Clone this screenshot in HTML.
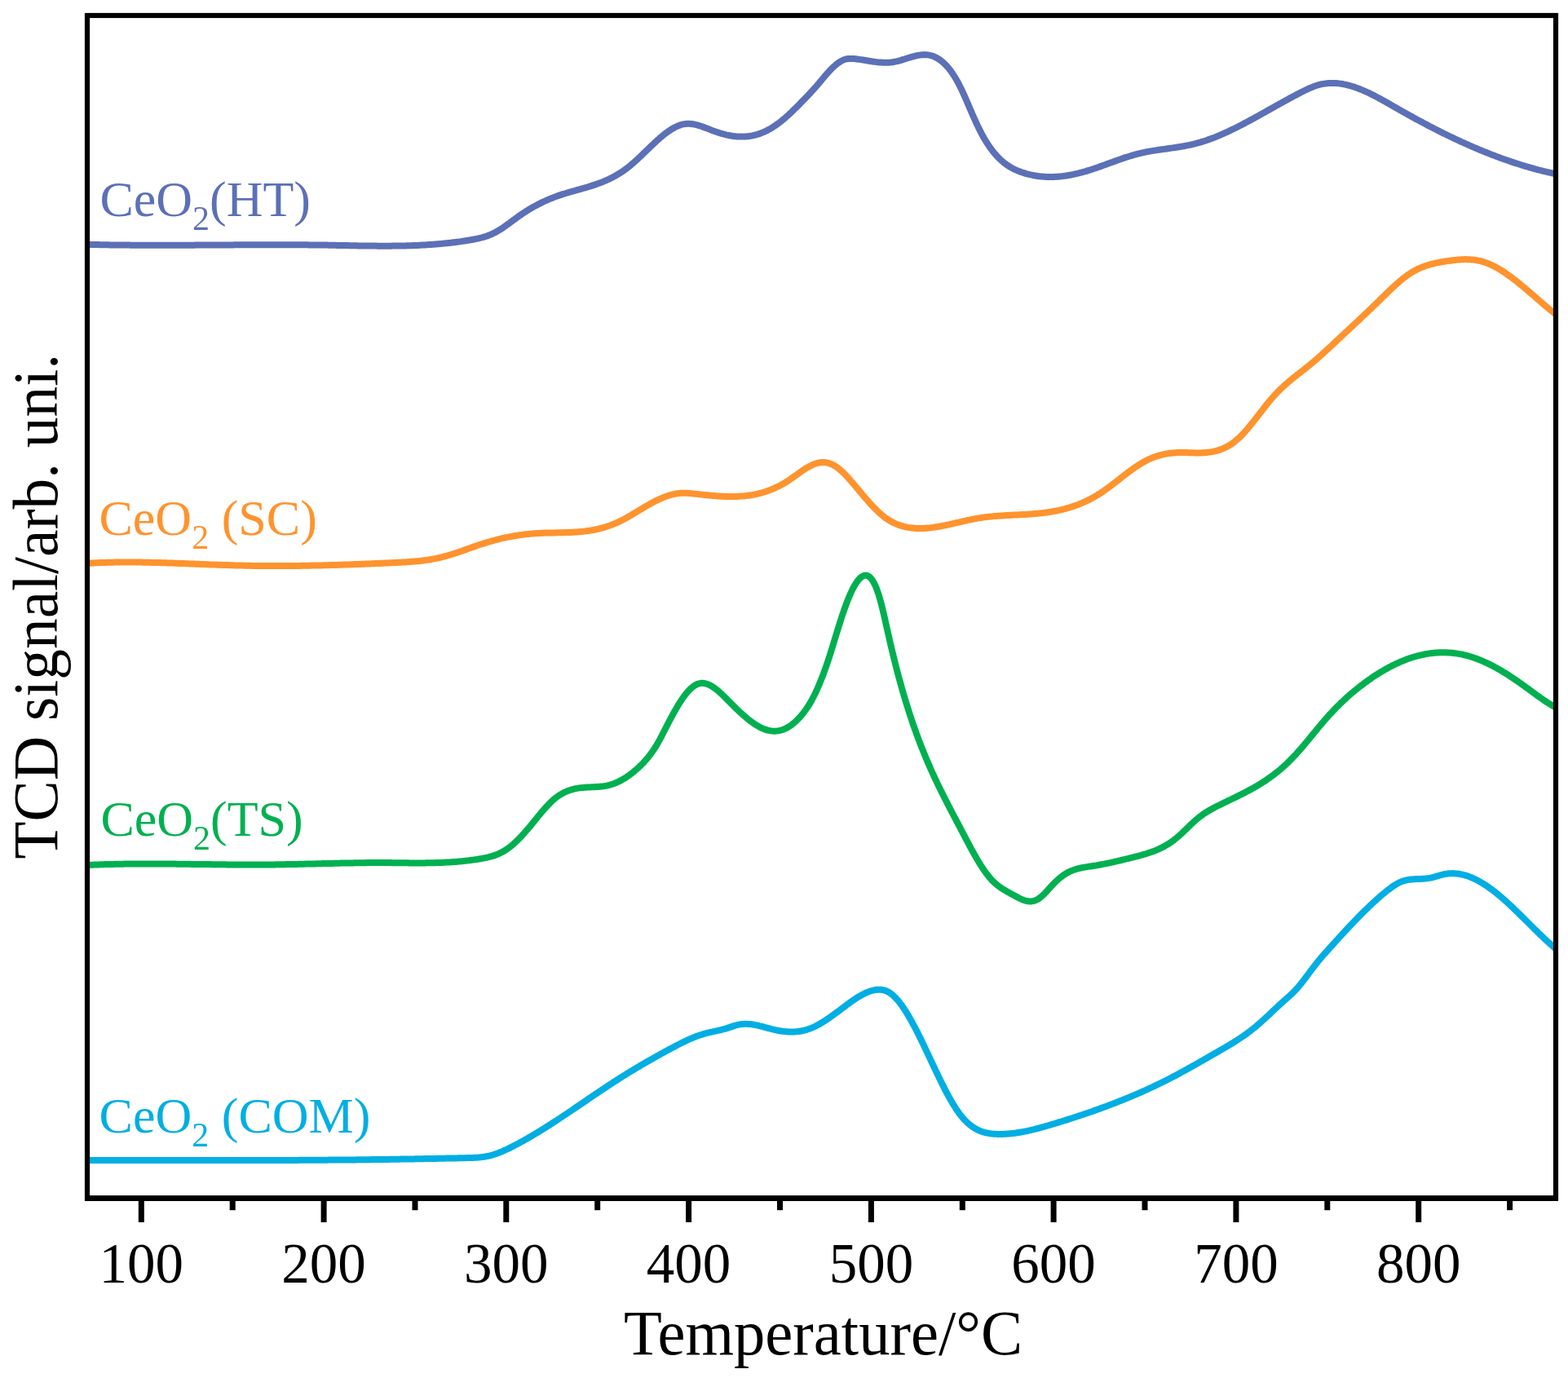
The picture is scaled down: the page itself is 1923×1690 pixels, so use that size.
<!DOCTYPE html>
<html><head><meta charset="utf-8"><style>
html,body{margin:0;padding:0;background:#fff;}
svg{display:block;}
text{font-family:"Liberation Serif","Times New Roman",serif;}
</style></head><body>
<svg width="1923" height="1690" viewBox="0 0 1923 1690">
<rect x="0" y="0" width="1923" height="1690" fill="#fff"/>
<defs><clipPath id="pc"><rect x="107" y="19" width="1801" height="1450"/></clipPath></defs>
<g clip-path="url(#pc)" fill="none" stroke-width="8" stroke-linejoin="round" stroke-linecap="butt">
<path d="M100.0,299.6 L101.5,299.7 L103.0,299.7 L104.5,299.7 L106.0,299.8 L107.5,299.8 L109.0,299.9 L110.5,299.9 L112.0,299.9 L113.5,300.0 L115.0,300.0 L116.5,300.0 L118.0,300.1 L119.5,300.1 L121.0,300.1 L122.5,300.2 L124.0,300.2 L125.5,300.2 L127.0,300.2 L128.5,300.3 L130.0,300.3 L131.5,300.3 L133.0,300.3 L134.5,300.4 L136.0,300.4 L137.5,300.4 L139.0,300.4 L140.5,300.4 L142.0,300.5 L143.5,300.5 L145.0,300.5 L146.5,300.5 L148.0,300.5 L149.5,300.6 L151.0,300.6 L152.5,300.6 L154.0,300.6 L155.5,300.6 L157.0,300.6 L158.5,300.6 L160.0,300.7 L161.5,300.7 L163.0,300.7 L164.5,300.7 L166.0,300.7 L167.5,300.7 L169.0,300.7 L170.5,300.7 L172.0,300.7 L173.5,300.7 L175.0,300.7 L176.5,300.8 L178.0,300.8 L179.5,300.8 L181.0,300.8 L182.5,300.8 L184.0,300.8 L185.5,300.8 L187.0,300.8 L188.5,300.8 L190.0,300.8 L191.5,300.8 L193.0,300.8 L194.5,300.8 L196.0,300.8 L197.5,300.8 L199.0,300.8 L200.5,300.8 L202.0,300.8 L203.5,300.8 L205.0,300.8 L206.5,300.8 L208.0,300.8 L209.5,300.8 L211.0,300.8 L212.5,300.8 L214.0,300.8 L215.5,300.8 L217.0,300.7 L218.5,300.7 L220.0,300.7 L221.5,300.7 L223.0,300.7 L224.5,300.7 L226.0,300.7 L227.5,300.7 L229.0,300.7 L230.5,300.7 L232.0,300.7 L233.5,300.7 L235.0,300.7 L236.5,300.7 L238.0,300.7 L239.5,300.6 L241.0,300.6 L242.5,300.6 L244.0,300.6 L245.5,300.6 L247.0,300.6 L248.5,300.6 L250.0,300.6 L251.5,300.6 L253.0,300.6 L254.5,300.6 L256.0,300.5 L257.5,300.5 L259.0,300.5 L260.5,300.5 L262.0,300.5 L263.5,300.5 L265.0,300.5 L266.5,300.5 L268.0,300.5 L269.5,300.5 L271.0,300.4 L272.5,300.4 L274.0,300.4 L275.5,300.4 L277.0,300.4 L278.5,300.4 L280.0,300.4 L281.5,300.4 L283.0,300.4 L284.5,300.4 L286.0,300.4 L287.5,300.3 L289.0,300.3 L290.5,300.3 L292.0,300.3 L293.5,300.3 L295.0,300.3 L296.5,300.3 L298.0,300.3 L299.5,300.3 L301.0,300.3 L302.5,300.3 L304.0,300.3 L305.5,300.3 L307.0,300.2 L308.5,300.2 L310.0,300.2 L311.5,300.2 L313.0,300.2 L314.5,300.2 L316.0,300.2 L317.5,300.2 L319.0,300.2 L320.5,300.2 L322.0,300.2 L323.5,300.2 L325.0,300.2 L326.5,300.2 L328.0,300.2 L329.5,300.2 L331.0,300.2 L332.5,300.2 L334.0,300.2 L335.5,300.2 L337.0,300.2 L338.5,300.2 L340.0,300.2 L341.5,300.2 L343.0,300.2 L344.5,300.2 L346.0,300.2 L347.5,300.2 L349.0,300.2 L350.5,300.2 L352.0,300.2 L353.5,300.2 L355.0,300.2 L356.5,300.2 L358.0,300.2 L359.5,300.2 L361.0,300.2 L362.5,300.2 L364.0,300.2 L365.5,300.2 L367.0,300.3 L368.5,300.3 L370.0,300.3 L371.5,300.3 L373.0,300.3 L374.5,300.3 L376.0,300.3 L377.5,300.3 L379.0,300.4 L380.5,300.4 L382.0,300.4 L383.5,300.4 L385.0,300.4 L386.5,300.4 L388.0,300.5 L389.5,300.5 L391.0,300.5 L392.5,300.5 L394.0,300.5 L395.5,300.6 L397.0,300.6 L398.5,300.6 L400.0,300.6 L401.5,300.6 L403.0,300.7 L404.5,300.7 L406.0,300.7 L407.5,300.8 L409.0,300.8 L410.5,300.8 L412.0,300.8 L413.5,300.9 L415.0,300.9 L416.5,300.9 L418.0,301.0 L419.5,301.0 L421.0,301.0 L422.5,301.0 L424.0,301.1 L425.5,301.1 L427.0,301.1 L428.5,301.2 L430.0,301.2 L431.5,301.2 L433.0,301.2 L434.5,301.3 L436.0,301.3 L437.5,301.3 L439.0,301.4 L440.5,301.4 L442.0,301.4 L443.5,301.4 L445.0,301.4 L446.5,301.5 L448.0,301.5 L449.5,301.5 L451.0,301.5 L452.5,301.6 L454.0,301.6 L455.5,301.6 L457.0,301.6 L458.5,301.6 L460.0,301.6 L461.5,301.6 L463.0,301.7 L464.5,301.7 L466.0,301.7 L467.5,301.7 L469.0,301.7 L470.5,301.7 L472.0,301.7 L473.5,301.7 L475.0,301.7 L476.5,301.7 L478.0,301.7 L479.5,301.7 L481.0,301.6 L482.5,301.6 L484.0,301.6 L485.5,301.6 L487.0,301.6 L488.5,301.6 L490.0,301.5 L491.5,301.5 L493.0,301.5 L494.5,301.4 L496.0,301.4 L497.5,301.4 L499.0,301.3 L500.5,301.3 L502.0,301.2 L503.5,301.2 L505.0,301.2 L506.5,301.1 L508.0,301.0 L509.5,301.0 L511.0,300.9 L512.5,300.9 L514.0,300.8 L515.5,300.7 L517.0,300.6 L518.5,300.6 L520.0,300.5 L521.5,300.4 L523.0,300.3 L524.5,300.2 L526.0,300.1 L527.5,300.0 L529.0,299.9 L530.5,299.8 L532.0,299.7 L533.5,299.6 L535.0,299.5 L536.5,299.3 L538.0,299.2 L539.5,299.1 L541.0,298.9 L542.5,298.8 L544.0,298.6 L545.5,298.5 L547.0,298.3 L548.5,298.2 L550.0,298.0 L551.5,297.9 L553.0,297.7 L554.5,297.5 L556.0,297.3 L557.5,297.2 L559.0,297.0 L560.5,296.8 L562.0,296.6 L563.5,296.4 L565.0,296.2 L566.5,295.9 L568.0,295.7 L569.5,295.5 L571.0,295.3 L572.5,295.0 L574.0,294.8 L575.5,294.5 L577.0,294.3 L578.5,294.0 L580.0,293.8 L581.5,293.5 L583.0,293.2 L584.5,292.9 L586.0,292.6 L587.5,292.2 L589.0,291.9 L590.5,291.5 L592.0,291.1 L593.5,290.6 L595.0,290.2 L596.5,289.7 L598.0,289.1 L599.5,288.6 L601.0,288.0 L602.5,287.3 L604.0,286.7 L605.5,285.9 L607.0,285.2 L608.5,284.4 L610.0,283.5 L611.5,282.6 L613.0,281.7 L614.5,280.8 L616.0,279.8 L617.5,278.8 L619.0,277.7 L620.5,276.7 L622.0,275.6 L623.5,274.5 L625.0,273.4 L626.5,272.3 L628.0,271.2 L629.5,270.1 L631.0,269.0 L632.5,267.9 L634.0,266.8 L635.5,265.7 L637.0,264.6 L638.5,263.6 L640.0,262.6 L641.5,261.5 L643.0,260.6 L644.5,259.6 L646.0,258.6 L647.5,257.7 L649.0,256.8 L650.5,255.9 L652.0,255.0 L653.5,254.1 L655.0,253.3 L656.5,252.5 L658.0,251.7 L659.5,250.9 L661.0,250.1 L662.5,249.4 L664.0,248.6 L665.5,247.9 L667.0,247.2 L668.5,246.5 L670.0,245.8 L671.5,245.2 L673.0,244.5 L674.5,243.9 L676.0,243.3 L677.5,242.7 L679.0,242.1 L680.5,241.5 L682.0,241.0 L683.5,240.4 L685.0,239.9 L686.5,239.4 L688.0,238.9 L689.5,238.4 L691.0,237.9 L692.5,237.5 L694.0,237.0 L695.5,236.5 L697.0,236.1 L698.5,235.7 L700.0,235.2 L701.5,234.8 L703.0,234.4 L704.5,234.0 L706.0,233.5 L707.5,233.1 L709.0,232.7 L710.5,232.3 L712.0,231.9 L713.5,231.4 L715.0,231.0 L716.5,230.6 L718.0,230.2 L719.5,229.7 L721.0,229.3 L722.5,228.8 L724.0,228.4 L725.5,227.9 L727.0,227.4 L728.5,226.9 L730.0,226.4 L731.5,225.9 L733.0,225.3 L734.5,224.8 L736.0,224.2 L737.5,223.7 L739.0,223.1 L740.5,222.5 L742.0,221.8 L743.5,221.2 L745.0,220.5 L746.5,219.8 L748.0,219.1 L749.5,218.3 L751.0,217.6 L752.5,216.8 L754.0,216.0 L755.5,215.1 L757.0,214.2 L758.5,213.3 L760.0,212.4 L761.5,211.5 L763.0,210.5 L764.5,209.4 L766.0,208.4 L767.5,207.3 L769.0,206.2 L770.5,205.0 L772.0,203.8 L773.5,202.6 L775.0,201.3 L776.5,200.0 L778.0,198.7 L779.5,197.3 L781.0,196.0 L782.5,194.6 L784.0,193.2 L785.5,191.8 L787.0,190.3 L788.5,188.9 L790.0,187.4 L791.5,186.0 L793.0,184.5 L794.5,183.1 L796.0,181.6 L797.5,180.2 L799.0,178.7 L800.5,177.3 L802.0,175.9 L803.5,174.5 L805.0,173.1 L806.5,171.7 L808.0,170.4 L809.5,169.1 L811.0,167.8 L812.5,166.6 L814.0,165.3 L815.5,164.1 L817.0,163.0 L818.5,161.9 L820.0,160.8 L821.5,159.8 L823.0,158.8 L824.5,157.9 L826.0,157.1 L827.5,156.3 L829.0,155.5 L830.5,154.8 L832.0,154.2 L833.5,153.6 L835.0,153.1 L836.5,152.7 L838.0,152.4 L839.5,152.1 L841.0,151.9 L842.5,151.8 L844.0,151.8 L845.5,151.8 L847.0,151.9 L848.5,152.0 L850.0,152.3 L851.5,152.5 L853.0,152.9 L854.5,153.2 L856.0,153.6 L857.5,154.1 L859.0,154.5 L860.5,155.0 L862.0,155.6 L863.5,156.1 L865.0,156.7 L866.5,157.3 L868.0,157.8 L869.5,158.4 L871.0,159.0 L872.5,159.6 L874.0,160.2 L875.5,160.7 L877.0,161.3 L878.5,161.8 L880.0,162.3 L881.5,162.8 L883.0,163.3 L884.5,163.7 L886.0,164.1 L887.5,164.5 L889.0,164.9 L890.5,165.3 L892.0,165.6 L893.5,166.0 L895.0,166.2 L896.5,166.5 L898.0,166.8 L899.5,167.0 L901.0,167.2 L902.5,167.3 L904.0,167.4 L905.5,167.5 L907.0,167.6 L908.5,167.6 L910.0,167.6 L911.5,167.6 L913.0,167.6 L914.5,167.5 L916.0,167.3 L917.5,167.2 L919.0,167.0 L920.5,166.7 L922.0,166.5 L923.5,166.2 L925.0,165.8 L926.5,165.5 L928.0,165.0 L929.5,164.6 L931.0,164.1 L932.5,163.6 L934.0,163.0 L935.5,162.4 L937.0,161.8 L938.5,161.1 L940.0,160.4 L941.5,159.6 L943.0,158.8 L944.5,158.0 L946.0,157.1 L947.5,156.2 L949.0,155.2 L950.5,154.2 L952.0,153.2 L953.5,152.1 L955.0,151.0 L956.5,149.8 L958.0,148.6 L959.5,147.4 L961.0,146.2 L962.5,144.9 L964.0,143.6 L965.5,142.2 L967.0,140.9 L968.5,139.5 L970.0,138.1 L971.5,136.7 L973.0,135.2 L974.5,133.7 L976.0,132.3 L977.5,130.8 L979.0,129.3 L980.5,127.8 L982.0,126.2 L983.5,124.7 L985.0,123.2 L986.5,121.6 L988.0,120.1 L989.5,118.5 L991.0,116.9 L992.5,115.3 L994.0,113.7 L995.5,112.1 L997.0,110.4 L998.5,108.8 L1000.0,107.1 L1001.5,105.4 L1003.0,103.6 L1004.5,101.9 L1006.0,100.1 L1007.5,98.3 L1009.0,96.5 L1010.5,94.7 L1012.0,92.9 L1013.5,91.2 L1015.0,89.5 L1016.5,87.8 L1018.0,86.2 L1019.5,84.6 L1021.0,83.1 L1022.5,81.7 L1024.0,80.4 L1025.5,79.1 L1027.0,77.9 L1028.5,76.8 L1030.0,75.8 L1031.5,75.0 L1033.0,74.2 L1034.5,73.5 L1036.0,72.9 L1037.5,72.5 L1039.0,72.2 L1040.5,72.0 L1042.0,71.9 L1043.5,71.9 L1045.0,71.9 L1046.5,72.0 L1048.0,72.1 L1049.5,72.3 L1051.0,72.5 L1052.5,72.7 L1054.0,72.9 L1055.5,73.1 L1057.0,73.3 L1058.5,73.5 L1060.0,73.8 L1061.5,74.0 L1063.0,74.3 L1064.5,74.5 L1066.0,74.8 L1067.5,75.0 L1069.0,75.3 L1070.5,75.5 L1072.0,75.7 L1073.5,75.9 L1075.0,76.1 L1076.5,76.3 L1078.0,76.4 L1079.5,76.5 L1081.0,76.6 L1082.5,76.7 L1084.0,76.8 L1085.5,76.8 L1087.0,76.8 L1088.5,76.8 L1090.0,76.7 L1091.5,76.6 L1093.0,76.4 L1094.5,76.3 L1096.0,76.0 L1097.5,75.7 L1099.0,75.4 L1100.5,75.1 L1102.0,74.7 L1103.5,74.3 L1105.0,73.9 L1106.5,73.4 L1108.0,72.9 L1109.5,72.5 L1111.0,72.0 L1112.5,71.5 L1114.0,71.0 L1115.5,70.6 L1117.0,70.1 L1118.5,69.7 L1120.0,69.3 L1121.5,68.9 L1123.0,68.5 L1124.5,68.2 L1126.0,67.9 L1127.5,67.6 L1129.0,67.4 L1130.5,67.3 L1132.0,67.2 L1133.5,67.1 L1135.0,67.2 L1136.5,67.2 L1138.0,67.4 L1139.5,67.6 L1141.0,68.0 L1142.5,68.4 L1144.0,68.8 L1145.5,69.4 L1147.0,70.1 L1148.5,70.8 L1150.0,71.7 L1151.5,72.6 L1153.0,73.6 L1154.5,74.8 L1156.0,76.0 L1157.5,77.4 L1159.0,78.8 L1160.5,80.4 L1162.0,82.0 L1163.5,83.8 L1165.0,85.7 L1166.5,87.7 L1168.0,89.8 L1169.5,92.1 L1171.0,94.5 L1172.5,97.0 L1174.0,99.6 L1175.5,102.4 L1177.0,105.3 L1178.5,108.3 L1180.0,111.5 L1181.5,114.7 L1183.0,118.0 L1184.5,121.5 L1186.0,124.9 L1187.5,128.4 L1189.0,131.9 L1190.5,135.4 L1192.0,138.9 L1193.5,142.3 L1195.0,145.7 L1196.5,149.0 L1198.0,152.2 L1199.5,155.4 L1201.0,158.4 L1202.5,161.4 L1204.0,164.3 L1205.5,167.0 L1207.0,169.7 L1208.5,172.2 L1210.0,174.6 L1211.5,177.0 L1213.0,179.2 L1214.5,181.4 L1216.0,183.4 L1217.5,185.4 L1219.0,187.2 L1220.5,189.0 L1222.0,190.7 L1223.5,192.3 L1225.0,193.9 L1226.5,195.3 L1228.0,196.7 L1229.5,198.0 L1231.0,199.3 L1232.5,200.5 L1234.0,201.6 L1235.5,202.6 L1237.0,203.6 L1238.5,204.6 L1240.0,205.5 L1241.5,206.3 L1243.0,207.1 L1244.5,207.8 L1246.0,208.5 L1247.5,209.2 L1249.0,209.8 L1250.5,210.4 L1252.0,210.9 L1253.5,211.5 L1255.0,211.9 L1256.5,212.4 L1258.0,212.9 L1259.5,213.3 L1261.0,213.7 L1262.5,214.0 L1264.0,214.4 L1265.5,214.7 L1267.0,215.0 L1268.5,215.3 L1270.0,215.5 L1271.5,215.8 L1273.0,216.0 L1274.5,216.2 L1276.0,216.4 L1277.5,216.5 L1279.0,216.6 L1280.5,216.7 L1282.0,216.8 L1283.5,216.9 L1285.0,216.9 L1286.5,217.0 L1288.0,217.0 L1289.5,217.0 L1291.0,216.9 L1292.5,216.9 L1294.0,216.8 L1295.5,216.8 L1297.0,216.7 L1298.5,216.5 L1300.0,216.4 L1301.5,216.3 L1303.0,216.1 L1304.5,215.9 L1306.0,215.7 L1307.5,215.5 L1309.0,215.2 L1310.5,215.0 L1312.0,214.7 L1313.5,214.5 L1315.0,214.2 L1316.5,213.9 L1318.0,213.5 L1319.5,213.2 L1321.0,212.9 L1322.5,212.5 L1324.0,212.1 L1325.5,211.7 L1327.0,211.3 L1328.5,210.9 L1330.0,210.5 L1331.5,210.1 L1333.0,209.6 L1334.5,209.1 L1336.0,208.7 L1337.5,208.2 L1339.0,207.7 L1340.5,207.2 L1342.0,206.7 L1343.5,206.2 L1345.0,205.7 L1346.5,205.2 L1348.0,204.6 L1349.5,204.1 L1351.0,203.6 L1352.5,203.0 L1354.0,202.5 L1355.5,202.0 L1357.0,201.4 L1358.5,200.9 L1360.0,200.3 L1361.5,199.8 L1363.0,199.2 L1364.5,198.7 L1366.0,198.1 L1367.5,197.6 L1369.0,197.1 L1370.5,196.5 L1372.0,196.0 L1373.5,195.5 L1375.0,195.0 L1376.5,194.4 L1378.0,193.9 L1379.5,193.4 L1381.0,192.9 L1382.5,192.5 L1384.0,192.0 L1385.5,191.5 L1387.0,191.1 L1388.5,190.6 L1390.0,190.2 L1391.5,189.7 L1393.0,189.3 L1394.5,188.9 L1396.0,188.5 L1397.5,188.2 L1399.0,187.8 L1400.5,187.5 L1402.0,187.1 L1403.5,186.8 L1405.0,186.5 L1406.5,186.2 L1408.0,185.9 L1409.5,185.7 L1411.0,185.4 L1412.5,185.1 L1414.0,184.9 L1415.5,184.6 L1417.0,184.4 L1418.5,184.2 L1420.0,183.9 L1421.5,183.7 L1423.0,183.5 L1424.5,183.3 L1426.0,183.1 L1427.5,182.9 L1429.0,182.7 L1430.5,182.5 L1432.0,182.2 L1433.5,182.0 L1435.0,181.8 L1436.5,181.6 L1438.0,181.4 L1439.5,181.2 L1441.0,181.0 L1442.5,180.8 L1444.0,180.5 L1445.5,180.3 L1447.0,180.0 L1448.5,179.8 L1450.0,179.5 L1451.5,179.3 L1453.0,179.0 L1454.5,178.7 L1456.0,178.4 L1457.5,178.1 L1459.0,177.8 L1460.5,177.5 L1462.0,177.1 L1463.5,176.8 L1465.0,176.4 L1466.5,176.0 L1468.0,175.6 L1469.5,175.2 L1471.0,174.8 L1472.5,174.4 L1474.0,173.9 L1475.5,173.4 L1477.0,173.0 L1478.5,172.5 L1480.0,172.0 L1481.5,171.4 L1483.0,170.9 L1484.5,170.4 L1486.0,169.8 L1487.5,169.2 L1489.0,168.7 L1490.5,168.1 L1492.0,167.5 L1493.5,166.8 L1495.0,166.2 L1496.5,165.6 L1498.0,164.9 L1499.5,164.3 L1501.0,163.6 L1502.5,162.9 L1504.0,162.3 L1505.5,161.6 L1507.0,160.9 L1508.5,160.2 L1510.0,159.4 L1511.5,158.7 L1513.0,158.0 L1514.5,157.3 L1516.0,156.5 L1517.5,155.8 L1519.0,155.0 L1520.5,154.2 L1522.0,153.5 L1523.5,152.7 L1525.0,151.9 L1526.5,151.1 L1528.0,150.3 L1529.5,149.5 L1531.0,148.7 L1532.5,147.9 L1534.0,147.1 L1535.5,146.3 L1537.0,145.5 L1538.5,144.6 L1540.0,143.8 L1541.5,143.0 L1543.0,142.2 L1544.5,141.3 L1546.0,140.5 L1547.5,139.6 L1549.0,138.8 L1550.5,138.0 L1552.0,137.1 L1553.5,136.3 L1555.0,135.4 L1556.5,134.6 L1558.0,133.8 L1559.5,132.9 L1561.0,132.1 L1562.5,131.2 L1564.0,130.4 L1565.5,129.5 L1567.0,128.7 L1568.5,127.9 L1570.0,127.0 L1571.5,126.2 L1573.0,125.4 L1574.5,124.5 L1576.0,123.7 L1577.5,122.9 L1579.0,122.1 L1580.5,121.2 L1582.0,120.4 L1583.5,119.6 L1585.0,118.8 L1586.5,118.0 L1588.0,117.2 L1589.5,116.4 L1591.0,115.6 L1592.5,114.8 L1594.0,114.1 L1595.5,113.3 L1597.0,112.5 L1598.5,111.8 L1600.0,111.0 L1601.5,110.3 L1603.0,109.6 L1604.5,108.9 L1606.0,108.2 L1607.5,107.6 L1609.0,107.0 L1610.5,106.4 L1612.0,105.8 L1613.5,105.3 L1615.0,104.8 L1616.5,104.3 L1618.0,103.9 L1619.5,103.5 L1621.0,103.2 L1622.5,102.9 L1624.0,102.7 L1625.5,102.4 L1627.0,102.3 L1628.5,102.1 L1630.0,102.0 L1631.5,101.9 L1633.0,101.9 L1634.5,101.9 L1636.0,101.9 L1637.5,102.0 L1639.0,102.1 L1640.5,102.2 L1642.0,102.4 L1643.5,102.6 L1645.0,102.8 L1646.5,103.0 L1648.0,103.3 L1649.5,103.6 L1651.0,103.9 L1652.5,104.3 L1654.0,104.7 L1655.5,105.1 L1657.0,105.5 L1658.5,106.0 L1660.0,106.4 L1661.5,106.9 L1663.0,107.5 L1664.5,108.0 L1666.0,108.6 L1667.5,109.1 L1669.0,109.8 L1670.5,110.4 L1672.0,111.0 L1673.5,111.7 L1675.0,112.3 L1676.5,113.0 L1678.0,113.7 L1679.5,114.4 L1681.0,115.2 L1682.5,115.9 L1684.0,116.7 L1685.5,117.4 L1687.0,118.2 L1688.5,119.0 L1690.0,119.8 L1691.5,120.6 L1693.0,121.4 L1694.5,122.2 L1696.0,123.1 L1697.5,123.9 L1699.0,124.7 L1700.5,125.6 L1702.0,126.4 L1703.5,127.3 L1705.0,128.1 L1706.5,129.0 L1708.0,129.9 L1709.5,130.7 L1711.0,131.6 L1712.5,132.4 L1714.0,133.3 L1715.5,134.2 L1717.0,135.0 L1718.5,135.9 L1720.0,136.7 L1721.5,137.6 L1723.0,138.4 L1724.5,139.3 L1726.0,140.1 L1727.5,140.9 L1729.0,141.8 L1730.5,142.6 L1732.0,143.4 L1733.5,144.2 L1735.0,145.1 L1736.5,145.9 L1738.0,146.7 L1739.5,147.5 L1741.0,148.3 L1742.5,149.1 L1744.0,149.9 L1745.5,150.7 L1747.0,151.5 L1748.5,152.3 L1750.0,153.1 L1751.5,153.9 L1753.0,154.7 L1754.5,155.5 L1756.0,156.2 L1757.5,157.0 L1759.0,157.8 L1760.5,158.5 L1762.0,159.3 L1763.5,160.1 L1765.0,160.8 L1766.5,161.6 L1768.0,162.3 L1769.5,163.1 L1771.0,163.8 L1772.5,164.5 L1774.0,165.3 L1775.5,166.0 L1777.0,166.7 L1778.5,167.5 L1780.0,168.2 L1781.5,168.9 L1783.0,169.6 L1784.5,170.3 L1786.0,171.0 L1787.5,171.7 L1789.0,172.4 L1790.5,173.1 L1792.0,173.8 L1793.5,174.5 L1795.0,175.2 L1796.5,175.8 L1798.0,176.5 L1799.5,177.2 L1801.0,177.8 L1802.5,178.5 L1804.0,179.2 L1805.5,179.8 L1807.0,180.5 L1808.5,181.1 L1810.0,181.7 L1811.5,182.4 L1813.0,183.0 L1814.5,183.6 L1816.0,184.3 L1817.5,184.9 L1819.0,185.5 L1820.5,186.1 L1822.0,186.7 L1823.5,187.3 L1825.0,187.9 L1826.5,188.5 L1828.0,189.1 L1829.5,189.7 L1831.0,190.3 L1832.5,190.8 L1834.0,191.4 L1835.5,192.0 L1837.0,192.5 L1838.5,193.1 L1840.0,193.6 L1841.5,194.2 L1843.0,194.7 L1844.5,195.2 L1846.0,195.8 L1847.5,196.3 L1849.0,196.8 L1850.5,197.3 L1852.0,197.9 L1853.5,198.4 L1855.0,198.9 L1856.5,199.4 L1858.0,199.9 L1859.5,200.3 L1861.0,200.8 L1862.5,201.3 L1864.0,201.8 L1865.5,202.3 L1867.0,202.7 L1868.5,203.2 L1870.0,203.6 L1871.5,204.1 L1873.0,204.5 L1874.5,204.9 L1876.0,205.4 L1877.5,205.8 L1879.0,206.2 L1880.5,206.6 L1882.0,207.1 L1883.5,207.5 L1885.0,207.9 L1886.5,208.3 L1888.0,208.6 L1889.5,209.0 L1891.0,209.4 L1892.5,209.8 L1894.0,210.1 L1895.5,210.5 L1897.0,210.9 L1898.5,211.2 L1900.0,211.6 L1901.5,211.9 L1903.0,212.2 L1904.5,212.6 L1906.0,212.9 L1907.5,213.2 L1909.0,213.5 L1910.5,213.8 L1912.0,214.1" stroke="#5C70B7"/>
<path d="M100.0,691.3 L101.5,691.2 L103.0,691.1 L104.5,691.0 L106.0,690.9 L107.5,690.8 L109.0,690.8 L110.5,690.7 L112.0,690.6 L113.5,690.5 L115.0,690.4 L116.5,690.4 L118.0,690.3 L119.5,690.2 L121.0,690.2 L122.5,690.1 L124.0,690.1 L125.5,690.0 L127.0,690.0 L128.5,689.9 L130.0,689.9 L131.5,689.8 L133.0,689.8 L134.5,689.8 L136.0,689.7 L137.5,689.7 L139.0,689.7 L140.5,689.6 L142.0,689.6 L143.5,689.6 L145.0,689.6 L146.5,689.6 L148.0,689.6 L149.5,689.5 L151.0,689.5 L152.5,689.5 L154.0,689.5 L155.5,689.5 L157.0,689.5 L158.5,689.5 L160.0,689.5 L161.5,689.5 L163.0,689.5 L164.5,689.5 L166.0,689.6 L167.5,689.6 L169.0,689.6 L170.5,689.6 L172.0,689.6 L173.5,689.6 L175.0,689.7 L176.5,689.7 L178.0,689.7 L179.5,689.7 L181.0,689.8 L182.5,689.8 L184.0,689.8 L185.5,689.9 L187.0,689.9 L188.5,689.9 L190.0,690.0 L191.5,690.0 L193.0,690.0 L194.5,690.1 L196.0,690.1 L197.5,690.2 L199.0,690.2 L200.5,690.3 L202.0,690.3 L203.5,690.3 L205.0,690.4 L206.5,690.4 L208.0,690.5 L209.5,690.5 L211.0,690.6 L212.5,690.6 L214.0,690.7 L215.5,690.7 L217.0,690.8 L218.5,690.9 L220.0,690.9 L221.5,691.0 L223.0,691.0 L224.5,691.1 L226.0,691.1 L227.5,691.2 L229.0,691.2 L230.5,691.3 L232.0,691.4 L233.5,691.4 L235.0,691.5 L236.5,691.5 L238.0,691.6 L239.5,691.7 L241.0,691.7 L242.5,691.8 L244.0,691.8 L245.5,691.9 L247.0,692.0 L248.5,692.0 L250.0,692.1 L251.5,692.1 L253.0,692.2 L254.5,692.2 L256.0,692.3 L257.5,692.4 L259.0,692.4 L260.5,692.5 L262.0,692.5 L263.5,692.6 L265.0,692.6 L266.5,692.7 L268.0,692.7 L269.5,692.8 L271.0,692.8 L272.5,692.9 L274.0,693.0 L275.5,693.0 L277.0,693.1 L278.5,693.1 L280.0,693.1 L281.5,693.2 L283.0,693.2 L284.5,693.3 L286.0,693.3 L287.5,693.4 L289.0,693.4 L290.5,693.5 L292.0,693.5 L293.5,693.5 L295.0,693.6 L296.5,693.6 L298.0,693.6 L299.5,693.7 L301.0,693.7 L302.5,693.7 L304.0,693.8 L305.5,693.8 L307.0,693.8 L308.5,693.8 L310.0,693.9 L311.5,693.9 L313.0,693.9 L314.5,693.9 L316.0,693.9 L317.5,694.0 L319.0,694.0 L320.5,694.0 L322.0,694.0 L323.5,694.0 L325.0,694.0 L326.5,694.0 L328.0,694.0 L329.5,694.1 L331.0,694.1 L332.5,694.1 L334.0,694.1 L335.5,694.1 L337.0,694.1 L338.5,694.1 L340.0,694.1 L341.5,694.1 L343.0,694.1 L344.5,694.1 L346.0,694.1 L347.5,694.1 L349.0,694.0 L350.5,694.0 L352.0,694.0 L353.5,694.0 L355.0,694.0 L356.5,694.0 L358.0,694.0 L359.5,694.0 L361.0,694.0 L362.5,693.9 L364.0,693.9 L365.5,693.9 L367.0,693.9 L368.5,693.9 L370.0,693.8 L371.5,693.8 L373.0,693.8 L374.5,693.8 L376.0,693.7 L377.5,693.7 L379.0,693.7 L380.5,693.7 L382.0,693.6 L383.5,693.6 L385.0,693.6 L386.5,693.5 L388.0,693.5 L389.5,693.5 L391.0,693.5 L392.5,693.4 L394.0,693.4 L395.5,693.3 L397.0,693.3 L398.5,693.3 L400.0,693.2 L401.5,693.2 L403.0,693.2 L404.5,693.1 L406.0,693.1 L407.5,693.0 L409.0,693.0 L410.5,692.9 L412.0,692.9 L413.5,692.9 L415.0,692.8 L416.5,692.8 L418.0,692.7 L419.5,692.7 L421.0,692.6 L422.5,692.6 L424.0,692.5 L425.5,692.5 L427.0,692.4 L428.5,692.4 L430.0,692.3 L431.5,692.3 L433.0,692.2 L434.5,692.1 L436.0,692.1 L437.5,692.0 L439.0,692.0 L440.5,691.9 L442.0,691.9 L443.5,691.8 L445.0,691.7 L446.5,691.7 L448.0,691.6 L449.5,691.6 L451.0,691.5 L452.5,691.4 L454.0,691.4 L455.5,691.3 L457.0,691.3 L458.5,691.2 L460.0,691.1 L461.5,691.1 L463.0,691.0 L464.5,690.9 L466.0,690.9 L467.5,690.8 L469.0,690.7 L470.5,690.7 L472.0,690.6 L473.5,690.5 L475.0,690.5 L476.5,690.4 L478.0,690.3 L479.5,690.3 L481.0,690.2 L482.5,690.1 L484.0,690.1 L485.5,690.0 L487.0,689.9 L488.5,689.8 L490.0,689.8 L491.5,689.7 L493.0,689.6 L494.5,689.5 L496.0,689.5 L497.5,689.4 L499.0,689.3 L500.5,689.2 L502.0,689.1 L503.5,689.0 L505.0,688.8 L506.5,688.7 L508.0,688.6 L509.5,688.5 L511.0,688.3 L512.5,688.2 L514.0,688.0 L515.5,687.9 L517.0,687.7 L518.5,687.5 L520.0,687.3 L521.5,687.1 L523.0,686.9 L524.5,686.7 L526.0,686.5 L527.5,686.2 L529.0,686.0 L530.5,685.7 L532.0,685.4 L533.5,685.1 L535.0,684.8 L536.5,684.5 L538.0,684.2 L539.5,683.8 L541.0,683.5 L542.5,683.1 L544.0,682.7 L545.5,682.3 L547.0,681.9 L548.5,681.5 L550.0,681.0 L551.5,680.6 L553.0,680.1 L554.5,679.7 L556.0,679.2 L557.5,678.7 L559.0,678.2 L560.5,677.7 L562.0,677.2 L563.5,676.7 L565.0,676.2 L566.5,675.7 L568.0,675.1 L569.5,674.6 L571.0,674.1 L572.5,673.6 L574.0,673.0 L575.5,672.5 L577.0,672.0 L578.5,671.4 L580.0,670.9 L581.5,670.4 L583.0,669.9 L584.5,669.4 L586.0,668.8 L587.5,668.3 L589.0,667.8 L590.5,667.3 L592.0,666.9 L593.5,666.4 L595.0,665.9 L596.5,665.4 L598.0,665.0 L599.5,664.5 L601.0,664.1 L602.5,663.7 L604.0,663.3 L605.5,662.9 L607.0,662.5 L608.5,662.1 L610.0,661.7 L611.5,661.3 L613.0,660.9 L614.5,660.6 L616.0,660.2 L617.5,659.9 L619.0,659.6 L620.5,659.2 L622.0,658.9 L623.5,658.6 L625.0,658.3 L626.5,658.1 L628.0,657.8 L629.5,657.5 L631.0,657.3 L632.5,657.0 L634.0,656.8 L635.5,656.5 L637.0,656.3 L638.5,656.1 L640.0,655.9 L641.5,655.7 L643.0,655.5 L644.5,655.3 L646.0,655.2 L647.5,655.0 L649.0,654.9 L650.5,654.7 L652.0,654.6 L653.5,654.4 L655.0,654.3 L656.5,654.2 L658.0,654.1 L659.5,654.0 L661.0,654.0 L662.5,653.9 L664.0,653.8 L665.5,653.8 L667.0,653.7 L668.5,653.6 L670.0,653.6 L671.5,653.6 L673.0,653.5 L674.5,653.5 L676.0,653.5 L677.5,653.4 L679.0,653.4 L680.5,653.4 L682.0,653.3 L683.5,653.3 L685.0,653.3 L686.5,653.3 L688.0,653.2 L689.5,653.2 L691.0,653.2 L692.5,653.1 L694.0,653.1 L695.5,653.0 L697.0,653.0 L698.5,652.9 L700.0,652.9 L701.5,652.8 L703.0,652.7 L704.5,652.6 L706.0,652.5 L707.5,652.4 L709.0,652.3 L710.5,652.2 L712.0,652.1 L713.5,651.9 L715.0,651.8 L716.5,651.6 L718.0,651.4 L719.5,651.2 L721.0,651.0 L722.5,650.8 L724.0,650.6 L725.5,650.3 L727.0,650.1 L728.5,649.8 L730.0,649.5 L731.5,649.2 L733.0,648.8 L734.5,648.5 L736.0,648.1 L737.5,647.7 L739.0,647.3 L740.5,646.9 L742.0,646.5 L743.5,646.0 L745.0,645.5 L746.5,645.0 L748.0,644.5 L749.5,643.9 L751.0,643.3 L752.5,642.7 L754.0,642.1 L755.5,641.5 L757.0,640.8 L758.5,640.1 L760.0,639.4 L761.5,638.7 L763.0,637.9 L764.5,637.2 L766.0,636.4 L767.5,635.5 L769.0,634.7 L770.5,633.8 L772.0,633.0 L773.5,632.1 L775.0,631.2 L776.5,630.3 L778.0,629.4 L779.5,628.5 L781.0,627.6 L782.5,626.7 L784.0,625.8 L785.5,624.9 L787.0,624.0 L788.5,623.1 L790.0,622.2 L791.5,621.3 L793.0,620.4 L794.5,619.5 L796.0,618.7 L797.5,617.9 L799.0,617.0 L800.5,616.2 L802.0,615.4 L803.5,614.7 L805.0,613.9 L806.5,613.2 L808.0,612.5 L809.5,611.8 L811.0,611.1 L812.5,610.5 L814.0,609.9 L815.5,609.3 L817.0,608.8 L818.5,608.3 L820.0,607.8 L821.5,607.3 L823.0,606.9 L824.5,606.5 L826.0,606.1 L827.5,605.8 L829.0,605.5 L830.5,605.3 L832.0,605.1 L833.5,604.9 L835.0,604.8 L836.5,604.8 L838.0,604.7 L839.5,604.7 L841.0,604.7 L842.5,604.8 L844.0,604.9 L845.5,605.0 L847.0,605.1 L848.5,605.3 L850.0,605.4 L851.5,605.6 L853.0,605.7 L854.5,605.9 L856.0,606.1 L857.5,606.2 L859.0,606.4 L860.5,606.6 L862.0,606.7 L863.5,606.9 L865.0,607.0 L866.5,607.2 L868.0,607.3 L869.5,607.5 L871.0,607.6 L872.5,607.8 L874.0,607.9 L875.5,608.0 L877.0,608.1 L878.5,608.3 L880.0,608.4 L881.5,608.5 L883.0,608.6 L884.5,608.7 L886.0,608.7 L887.5,608.8 L889.0,608.9 L890.5,608.9 L892.0,609.0 L893.5,609.0 L895.0,609.0 L896.5,609.0 L898.0,609.0 L899.5,609.0 L901.0,609.0 L902.5,608.9 L904.0,608.9 L905.5,608.8 L907.0,608.7 L908.5,608.6 L910.0,608.5 L911.5,608.4 L913.0,608.3 L914.5,608.1 L916.0,607.9 L917.5,607.7 L919.0,607.5 L920.5,607.3 L922.0,607.1 L923.5,606.8 L925.0,606.5 L926.5,606.2 L928.0,605.9 L929.5,605.5 L931.0,605.2 L932.5,604.8 L934.0,604.4 L935.5,604.0 L937.0,603.5 L938.5,603.1 L940.0,602.6 L941.5,602.0 L943.0,601.5 L944.5,600.9 L946.0,600.3 L947.5,599.7 L949.0,599.1 L950.5,598.4 L952.0,597.7 L953.5,597.0 L955.0,596.3 L956.5,595.5 L958.0,594.7 L959.5,593.9 L961.0,593.0 L962.5,592.1 L964.0,591.2 L965.5,590.3 L967.0,589.3 L968.5,588.3 L970.0,587.2 L971.5,586.2 L973.0,585.1 L974.5,584.1 L976.0,583.0 L977.5,581.9 L979.0,580.8 L980.5,579.8 L982.0,578.7 L983.5,577.7 L985.0,576.7 L986.5,575.7 L988.0,574.7 L989.5,573.8 L991.0,572.9 L992.5,572.1 L994.0,571.3 L995.5,570.6 L997.0,569.9 L998.5,569.2 L1000.0,568.7 L1001.5,568.2 L1003.0,567.8 L1004.5,567.5 L1006.0,567.2 L1007.5,567.0 L1009.0,567.0 L1010.5,567.0 L1012.0,567.1 L1013.5,567.3 L1015.0,567.7 L1016.5,568.1 L1018.0,568.6 L1019.5,569.2 L1021.0,569.9 L1022.5,570.6 L1024.0,571.5 L1025.5,572.5 L1027.0,573.5 L1028.5,574.6 L1030.0,575.9 L1031.5,577.2 L1033.0,578.6 L1034.5,580.0 L1036.0,581.5 L1037.5,583.1 L1039.0,584.7 L1040.5,586.4 L1042.0,588.0 L1043.5,589.8 L1045.0,591.5 L1046.5,593.2 L1048.0,595.0 L1049.5,596.8 L1051.0,598.6 L1052.5,600.4 L1054.0,602.1 L1055.5,603.9 L1057.0,605.7 L1058.5,607.5 L1060.0,609.3 L1061.5,611.0 L1063.0,612.7 L1064.5,614.5 L1066.0,616.2 L1067.5,617.8 L1069.0,619.5 L1070.5,621.1 L1072.0,622.6 L1073.5,624.2 L1075.0,625.7 L1076.5,627.1 L1078.0,628.5 L1079.5,629.9 L1081.0,631.2 L1082.5,632.4 L1084.0,633.6 L1085.5,634.8 L1087.0,635.8 L1088.5,636.9 L1090.0,637.8 L1091.5,638.7 L1093.0,639.6 L1094.5,640.4 L1096.0,641.2 L1097.5,641.9 L1099.0,642.5 L1100.5,643.1 L1102.0,643.7 L1103.5,644.3 L1105.0,644.7 L1106.5,645.2 L1108.0,645.6 L1109.5,646.0 L1111.0,646.3 L1112.5,646.6 L1114.0,646.9 L1115.5,647.1 L1117.0,647.3 L1118.5,647.5 L1120.0,647.6 L1121.5,647.8 L1123.0,647.9 L1124.5,647.9 L1126.0,648.0 L1127.5,648.0 L1129.0,648.0 L1130.5,648.0 L1132.0,647.9 L1133.5,647.9 L1135.0,647.8 L1136.5,647.7 L1138.0,647.5 L1139.5,647.4 L1141.0,647.3 L1142.5,647.1 L1144.0,646.9 L1145.5,646.7 L1147.0,646.5 L1148.5,646.2 L1150.0,646.0 L1151.5,645.7 L1153.0,645.5 L1154.5,645.2 L1156.0,644.9 L1157.5,644.6 L1159.0,644.3 L1160.5,644.0 L1162.0,643.7 L1163.5,643.4 L1165.0,643.0 L1166.5,642.7 L1168.0,642.3 L1169.5,642.0 L1171.0,641.7 L1172.5,641.3 L1174.0,641.0 L1175.5,640.6 L1177.0,640.3 L1178.5,639.9 L1180.0,639.6 L1181.5,639.2 L1183.0,638.9 L1184.5,638.6 L1186.0,638.2 L1187.5,637.9 L1189.0,637.6 L1190.5,637.3 L1192.0,637.0 L1193.5,636.7 L1195.0,636.4 L1196.5,636.1 L1198.0,635.8 L1199.5,635.6 L1201.0,635.3 L1202.5,635.1 L1204.0,634.8 L1205.5,634.6 L1207.0,634.4 L1208.5,634.2 L1210.0,634.1 L1211.5,633.9 L1213.0,633.7 L1214.5,633.6 L1216.0,633.4 L1217.5,633.3 L1219.0,633.1 L1220.5,633.0 L1222.0,632.9 L1223.5,632.8 L1225.0,632.7 L1226.5,632.6 L1228.0,632.5 L1229.5,632.4 L1231.0,632.3 L1232.5,632.2 L1234.0,632.1 L1235.5,632.0 L1237.0,631.9 L1238.5,631.9 L1240.0,631.8 L1241.5,631.7 L1243.0,631.6 L1244.5,631.6 L1246.0,631.5 L1247.5,631.4 L1249.0,631.3 L1250.5,631.3 L1252.0,631.2 L1253.5,631.1 L1255.0,631.0 L1256.5,630.9 L1258.0,630.9 L1259.5,630.8 L1261.0,630.7 L1262.5,630.6 L1264.0,630.5 L1265.5,630.4 L1267.0,630.2 L1268.5,630.1 L1270.0,630.0 L1271.5,629.9 L1273.0,629.7 L1274.5,629.6 L1276.0,629.4 L1277.5,629.2 L1279.0,629.1 L1280.5,628.9 L1282.0,628.7 L1283.5,628.5 L1285.0,628.3 L1286.5,628.1 L1288.0,627.8 L1289.5,627.6 L1291.0,627.3 L1292.5,627.0 L1294.0,626.8 L1295.5,626.5 L1297.0,626.2 L1298.5,625.9 L1300.0,625.5 L1301.5,625.2 L1303.0,624.8 L1304.5,624.4 L1306.0,624.1 L1307.5,623.6 L1309.0,623.2 L1310.5,622.8 L1312.0,622.3 L1313.5,621.9 L1315.0,621.4 L1316.5,620.9 L1318.0,620.4 L1319.5,619.8 L1321.0,619.3 L1322.5,618.7 L1324.0,618.1 L1325.5,617.5 L1327.0,616.9 L1328.5,616.2 L1330.0,615.5 L1331.5,614.9 L1333.0,614.1 L1334.5,613.4 L1336.0,612.6 L1337.5,611.9 L1339.0,611.1 L1340.5,610.3 L1342.0,609.4 L1343.5,608.5 L1345.0,607.6 L1346.5,606.7 L1348.0,605.8 L1349.5,604.8 L1351.0,603.8 L1352.5,602.8 L1354.0,601.8 L1355.5,600.7 L1357.0,599.7 L1358.5,598.6 L1360.0,597.5 L1361.5,596.3 L1363.0,595.2 L1364.5,594.1 L1366.0,592.9 L1367.5,591.8 L1369.0,590.6 L1370.5,589.4 L1372.0,588.3 L1373.5,587.1 L1375.0,585.9 L1376.5,584.7 L1378.0,583.6 L1379.5,582.4 L1381.0,581.3 L1382.5,580.1 L1384.0,579.0 L1385.5,577.9 L1387.0,576.8 L1388.5,575.7 L1390.0,574.6 L1391.5,573.6 L1393.0,572.5 L1394.5,571.5 L1396.0,570.6 L1397.5,569.6 L1399.0,568.7 L1400.5,567.8 L1402.0,566.9 L1403.5,566.1 L1405.0,565.3 L1406.5,564.5 L1408.0,563.7 L1409.5,563.0 L1411.0,562.4 L1412.5,561.7 L1414.0,561.1 L1415.5,560.6 L1417.0,560.0 L1418.5,559.5 L1420.0,559.1 L1421.5,558.6 L1423.0,558.2 L1424.5,557.8 L1426.0,557.4 L1427.5,557.1 L1429.0,556.8 L1430.5,556.5 L1432.0,556.3 L1433.5,556.0 L1435.0,555.8 L1436.5,555.7 L1438.0,555.5 L1439.5,555.4 L1441.0,555.3 L1442.5,555.2 L1444.0,555.1 L1445.5,555.1 L1447.0,555.0 L1448.5,555.0 L1450.0,555.0 L1451.5,555.1 L1453.0,555.1 L1454.5,555.1 L1456.0,555.1 L1457.5,555.2 L1459.0,555.2 L1460.5,555.3 L1462.0,555.3 L1463.5,555.3 L1465.0,555.4 L1466.5,555.4 L1468.0,555.4 L1469.5,555.4 L1471.0,555.4 L1472.5,555.4 L1474.0,555.3 L1475.5,555.3 L1477.0,555.2 L1478.5,555.1 L1480.0,555.0 L1481.5,554.8 L1483.0,554.6 L1484.5,554.4 L1486.0,554.2 L1487.5,553.9 L1489.0,553.6 L1490.5,553.2 L1492.0,552.8 L1493.5,552.4 L1495.0,551.9 L1496.5,551.4 L1498.0,550.9 L1499.5,550.3 L1501.0,549.6 L1502.5,548.9 L1504.0,548.2 L1505.5,547.4 L1507.0,546.5 L1508.5,545.6 L1510.0,544.6 L1511.5,543.6 L1513.0,542.5 L1514.5,541.3 L1516.0,540.1 L1517.5,538.8 L1519.0,537.5 L1520.5,536.1 L1522.0,534.6 L1523.5,533.1 L1525.0,531.5 L1526.5,529.8 L1528.0,528.1 L1529.5,526.4 L1531.0,524.6 L1532.5,522.8 L1534.0,521.0 L1535.5,519.1 L1537.0,517.3 L1538.5,515.4 L1540.0,513.4 L1541.5,511.5 L1543.0,509.6 L1544.5,507.6 L1546.0,505.7 L1547.5,503.8 L1549.0,501.8 L1550.5,499.9 L1552.0,498.0 L1553.5,496.1 L1555.0,494.3 L1556.5,492.4 L1558.0,490.6 L1559.5,488.9 L1561.0,487.1 L1562.5,485.4 L1564.0,483.8 L1565.5,482.2 L1567.0,480.6 L1568.5,479.1 L1570.0,477.6 L1571.5,476.2 L1573.0,474.8 L1574.5,473.4 L1576.0,472.0 L1577.5,470.7 L1579.0,469.4 L1580.5,468.1 L1582.0,466.9 L1583.5,465.6 L1585.0,464.4 L1586.5,463.2 L1588.0,462.0 L1589.5,460.8 L1591.0,459.6 L1592.5,458.5 L1594.0,457.3 L1595.5,456.1 L1597.0,455.0 L1598.5,453.8 L1600.0,452.6 L1601.5,451.4 L1603.0,450.2 L1604.5,449.0 L1606.0,447.8 L1607.5,446.6 L1609.0,445.3 L1610.5,444.0 L1612.0,442.8 L1613.5,441.5 L1615.0,440.2 L1616.5,438.9 L1618.0,437.5 L1619.5,436.2 L1621.0,434.9 L1622.5,433.5 L1624.0,432.1 L1625.5,430.8 L1627.0,429.4 L1628.5,428.0 L1630.0,426.6 L1631.5,425.3 L1633.0,423.9 L1634.5,422.5 L1636.0,421.1 L1637.5,419.7 L1639.0,418.2 L1640.5,416.8 L1642.0,415.4 L1643.5,414.0 L1645.0,412.6 L1646.5,411.2 L1648.0,409.8 L1649.5,408.4 L1651.0,407.0 L1652.5,405.6 L1654.0,404.2 L1655.5,402.8 L1657.0,401.4 L1658.5,400.0 L1660.0,398.6 L1661.5,397.2 L1663.0,395.8 L1664.5,394.4 L1666.0,393.0 L1667.5,391.6 L1669.0,390.1 L1670.5,388.7 L1672.0,387.3 L1673.5,385.9 L1675.0,384.5 L1676.5,383.1 L1678.0,381.7 L1679.5,380.2 L1681.0,378.8 L1682.5,377.4 L1684.0,375.9 L1685.5,374.5 L1687.0,373.0 L1688.5,371.6 L1690.0,370.1 L1691.5,368.7 L1693.0,367.2 L1694.5,365.7 L1696.0,364.2 L1697.5,362.8 L1699.0,361.3 L1700.5,359.8 L1702.0,358.4 L1703.5,356.9 L1705.0,355.5 L1706.5,354.1 L1708.0,352.7 L1709.5,351.3 L1711.0,349.9 L1712.5,348.5 L1714.0,347.2 L1715.5,345.9 L1717.0,344.6 L1718.5,343.4 L1720.0,342.1 L1721.5,340.9 L1723.0,339.8 L1724.5,338.7 L1726.0,337.6 L1727.5,336.5 L1729.0,335.5 L1730.5,334.6 L1732.0,333.6 L1733.5,332.8 L1735.0,331.9 L1736.5,331.1 L1738.0,330.4 L1739.5,329.6 L1741.0,329.0 L1742.5,328.3 L1744.0,327.7 L1745.5,327.1 L1747.0,326.6 L1748.5,326.0 L1750.0,325.5 L1751.5,325.1 L1753.0,324.6 L1754.5,324.2 L1756.0,323.8 L1757.5,323.4 L1759.0,323.1 L1760.5,322.7 L1762.0,322.4 L1763.5,322.1 L1765.0,321.8 L1766.5,321.5 L1768.0,321.3 L1769.5,321.0 L1771.0,320.8 L1772.5,320.5 L1774.0,320.3 L1775.5,320.1 L1777.0,319.9 L1778.5,319.7 L1780.0,319.5 L1781.5,319.3 L1783.0,319.1 L1784.5,318.9 L1786.0,318.8 L1787.5,318.6 L1789.0,318.5 L1790.5,318.4 L1792.0,318.3 L1793.5,318.2 L1795.0,318.2 L1796.5,318.1 L1798.0,318.1 L1799.5,318.2 L1801.0,318.2 L1802.5,318.3 L1804.0,318.4 L1805.5,318.5 L1807.0,318.6 L1808.5,318.8 L1810.0,319.0 L1811.5,319.3 L1813.0,319.6 L1814.5,319.9 L1816.0,320.2 L1817.5,320.6 L1819.0,321.1 L1820.5,321.5 L1822.0,322.0 L1823.5,322.6 L1825.0,323.2 L1826.5,323.8 L1828.0,324.5 L1829.5,325.1 L1831.0,325.9 L1832.5,326.6 L1834.0,327.4 L1835.5,328.2 L1837.0,329.1 L1838.5,330.0 L1840.0,330.9 L1841.5,331.8 L1843.0,332.7 L1844.5,333.7 L1846.0,334.7 L1847.5,335.8 L1849.0,336.8 L1850.5,337.9 L1852.0,339.0 L1853.5,340.1 L1855.0,341.2 L1856.5,342.4 L1858.0,343.5 L1859.5,344.7 L1861.0,345.9 L1862.5,347.1 L1864.0,348.3 L1865.5,349.5 L1867.0,350.8 L1868.5,352.0 L1870.0,353.3 L1871.5,354.6 L1873.0,355.9 L1874.5,357.1 L1876.0,358.4 L1877.5,359.7 L1879.0,361.0 L1880.5,362.3 L1882.0,363.6 L1883.5,364.9 L1885.0,366.2 L1886.5,367.5 L1888.0,368.8 L1889.5,370.1 L1891.0,371.4 L1892.5,372.7 L1894.0,374.0 L1895.5,375.2 L1897.0,376.5 L1898.5,377.8 L1900.0,379.0 L1901.5,380.3 L1903.0,381.5 L1904.5,382.7 L1906.0,383.9 L1907.5,385.1 L1909.0,386.2 L1910.5,387.4 L1912.0,388.5" stroke="#FF932E"/>
<path d="M100.0,1061.3 L101.5,1061.2 L103.0,1061.1 L104.5,1061.1 L106.0,1061.0 L107.5,1060.9 L109.0,1060.8 L110.5,1060.8 L112.0,1060.7 L113.5,1060.7 L115.0,1060.6 L116.5,1060.5 L118.0,1060.5 L119.5,1060.4 L121.0,1060.4 L122.5,1060.3 L124.0,1060.3 L125.5,1060.2 L127.0,1060.2 L128.5,1060.1 L130.0,1060.1 L131.5,1060.1 L133.0,1060.0 L134.5,1060.0 L136.0,1059.9 L137.5,1059.9 L139.0,1059.9 L140.5,1059.8 L142.0,1059.8 L143.5,1059.8 L145.0,1059.8 L146.5,1059.7 L148.0,1059.7 L149.5,1059.7 L151.0,1059.7 L152.5,1059.6 L154.0,1059.6 L155.5,1059.6 L157.0,1059.6 L158.5,1059.6 L160.0,1059.5 L161.5,1059.5 L163.0,1059.5 L164.5,1059.5 L166.0,1059.5 L167.5,1059.5 L169.0,1059.5 L170.5,1059.5 L172.0,1059.5 L173.5,1059.5 L175.0,1059.5 L176.5,1059.5 L178.0,1059.5 L179.5,1059.5 L181.0,1059.5 L182.5,1059.5 L184.0,1059.5 L185.5,1059.5 L187.0,1059.5 L188.5,1059.5 L190.0,1059.5 L191.5,1059.5 L193.0,1059.5 L194.5,1059.5 L196.0,1059.5 L197.5,1059.5 L199.0,1059.5 L200.5,1059.5 L202.0,1059.5 L203.5,1059.5 L205.0,1059.5 L206.5,1059.6 L208.0,1059.6 L209.5,1059.6 L211.0,1059.6 L212.5,1059.6 L214.0,1059.6 L215.5,1059.6 L217.0,1059.7 L218.5,1059.7 L220.0,1059.7 L221.5,1059.7 L223.0,1059.7 L224.5,1059.7 L226.0,1059.7 L227.5,1059.8 L229.0,1059.8 L230.5,1059.8 L232.0,1059.8 L233.5,1059.8 L235.0,1059.9 L236.5,1059.9 L238.0,1059.9 L239.5,1059.9 L241.0,1059.9 L242.5,1059.9 L244.0,1060.0 L245.5,1060.0 L247.0,1060.0 L248.5,1060.0 L250.0,1060.0 L251.5,1060.1 L253.0,1060.1 L254.5,1060.1 L256.0,1060.1 L257.5,1060.1 L259.0,1060.1 L260.5,1060.2 L262.0,1060.2 L263.5,1060.2 L265.0,1060.2 L266.5,1060.2 L268.0,1060.3 L269.5,1060.3 L271.0,1060.3 L272.5,1060.3 L274.0,1060.3 L275.5,1060.3 L277.0,1060.3 L278.5,1060.4 L280.0,1060.4 L281.5,1060.4 L283.0,1060.4 L284.5,1060.4 L286.0,1060.4 L287.5,1060.4 L289.0,1060.4 L290.5,1060.5 L292.0,1060.5 L293.5,1060.5 L295.0,1060.5 L296.5,1060.5 L298.0,1060.5 L299.5,1060.5 L301.0,1060.5 L302.5,1060.5 L304.0,1060.5 L305.5,1060.5 L307.0,1060.5 L308.5,1060.5 L310.0,1060.5 L311.5,1060.5 L313.0,1060.5 L314.5,1060.5 L316.0,1060.5 L317.5,1060.5 L319.0,1060.5 L320.5,1060.5 L322.0,1060.5 L323.5,1060.5 L325.0,1060.5 L326.5,1060.5 L328.0,1060.4 L329.5,1060.4 L331.0,1060.4 L332.5,1060.4 L334.0,1060.4 L335.5,1060.4 L337.0,1060.4 L338.5,1060.3 L340.0,1060.3 L341.5,1060.3 L343.0,1060.3 L344.5,1060.2 L346.0,1060.2 L347.5,1060.2 L349.0,1060.2 L350.5,1060.1 L352.0,1060.1 L353.5,1060.1 L355.0,1060.1 L356.5,1060.0 L358.0,1060.0 L359.5,1060.0 L361.0,1059.9 L362.5,1059.9 L364.0,1059.9 L365.5,1059.8 L367.0,1059.8 L368.5,1059.8 L370.0,1059.7 L371.5,1059.7 L373.0,1059.7 L374.5,1059.6 L376.0,1059.6 L377.5,1059.6 L379.0,1059.5 L380.5,1059.5 L382.0,1059.5 L383.5,1059.4 L385.0,1059.4 L386.5,1059.4 L388.0,1059.3 L389.5,1059.3 L391.0,1059.2 L392.5,1059.2 L394.0,1059.2 L395.5,1059.1 L397.0,1059.1 L398.5,1059.1 L400.0,1059.0 L401.5,1059.0 L403.0,1059.0 L404.5,1058.9 L406.0,1058.9 L407.5,1058.9 L409.0,1058.8 L410.5,1058.8 L412.0,1058.8 L413.5,1058.7 L415.0,1058.7 L416.5,1058.7 L418.0,1058.6 L419.5,1058.6 L421.0,1058.6 L422.5,1058.5 L424.0,1058.5 L425.5,1058.5 L427.0,1058.5 L428.5,1058.4 L430.0,1058.4 L431.5,1058.4 L433.0,1058.4 L434.5,1058.3 L436.0,1058.3 L437.5,1058.3 L439.0,1058.3 L440.5,1058.2 L442.0,1058.2 L443.5,1058.2 L445.0,1058.2 L446.5,1058.2 L448.0,1058.2 L449.5,1058.1 L451.0,1058.1 L452.5,1058.1 L454.0,1058.1 L455.5,1058.1 L457.0,1058.1 L458.5,1058.1 L460.0,1058.1 L461.5,1058.1 L463.0,1058.1 L464.5,1058.1 L466.0,1058.1 L467.5,1058.1 L469.0,1058.1 L470.5,1058.1 L472.0,1058.1 L473.5,1058.1 L475.0,1058.1 L476.5,1058.1 L478.0,1058.1 L479.5,1058.1 L481.0,1058.2 L482.5,1058.2 L484.0,1058.2 L485.5,1058.2 L487.0,1058.2 L488.5,1058.2 L490.0,1058.2 L491.5,1058.3 L493.0,1058.3 L494.5,1058.3 L496.0,1058.3 L497.5,1058.3 L499.0,1058.3 L500.5,1058.3 L502.0,1058.4 L503.5,1058.4 L505.0,1058.4 L506.5,1058.4 L508.0,1058.4 L509.5,1058.4 L511.0,1058.4 L512.5,1058.4 L514.0,1058.4 L515.5,1058.4 L517.0,1058.4 L518.5,1058.4 L520.0,1058.4 L521.5,1058.4 L523.0,1058.3 L524.5,1058.3 L526.0,1058.3 L527.5,1058.3 L529.0,1058.3 L530.5,1058.2 L532.0,1058.2 L533.5,1058.2 L535.0,1058.1 L536.5,1058.1 L538.0,1058.0 L539.5,1058.0 L541.0,1057.9 L542.5,1057.9 L544.0,1057.8 L545.5,1057.7 L547.0,1057.6 L548.5,1057.6 L550.0,1057.5 L551.5,1057.4 L553.0,1057.3 L554.5,1057.2 L556.0,1057.1 L557.5,1057.0 L559.0,1056.9 L560.5,1056.8 L562.0,1056.6 L563.5,1056.5 L565.0,1056.4 L566.5,1056.2 L568.0,1056.1 L569.5,1055.9 L571.0,1055.7 L572.5,1055.6 L574.0,1055.4 L575.5,1055.2 L577.0,1055.0 L578.5,1054.8 L580.0,1054.6 L581.5,1054.4 L583.0,1054.2 L584.5,1054.0 L586.0,1053.7 L587.5,1053.5 L589.0,1053.2 L590.5,1053.0 L592.0,1052.7 L593.5,1052.4 L595.0,1052.1 L596.5,1051.8 L598.0,1051.5 L599.5,1051.1 L601.0,1050.7 L602.5,1050.3 L604.0,1049.9 L605.5,1049.4 L607.0,1048.9 L608.5,1048.4 L610.0,1047.8 L611.5,1047.1 L613.0,1046.4 L614.5,1045.7 L616.0,1044.9 L617.5,1044.1 L619.0,1043.2 L620.5,1042.2 L622.0,1041.2 L623.5,1040.1 L625.0,1039.0 L626.5,1037.8 L628.0,1036.6 L629.5,1035.3 L631.0,1033.9 L632.5,1032.5 L634.0,1031.1 L635.5,1029.6 L637.0,1028.1 L638.5,1026.5 L640.0,1024.9 L641.5,1023.3 L643.0,1021.6 L644.5,1019.9 L646.0,1018.2 L647.5,1016.5 L649.0,1014.7 L650.5,1012.9 L652.0,1011.1 L653.5,1009.2 L655.0,1007.4 L656.5,1005.5 L658.0,1003.7 L659.5,1001.8 L661.0,1000.0 L662.5,998.2 L664.0,996.4 L665.5,994.6 L667.0,992.9 L668.5,991.2 L670.0,989.5 L671.5,987.9 L673.0,986.3 L674.5,984.8 L676.0,983.3 L677.5,981.9 L679.0,980.6 L680.5,979.3 L682.0,978.2 L683.5,977.0 L685.0,976.0 L686.5,975.0 L688.0,974.1 L689.5,973.2 L691.0,972.4 L692.5,971.7 L694.0,971.0 L695.5,970.3 L697.0,969.7 L698.5,969.2 L700.0,968.7 L701.5,968.3 L703.0,967.9 L704.5,967.5 L706.0,967.2 L707.5,966.9 L709.0,966.6 L710.5,966.4 L712.0,966.2 L713.5,966.1 L715.0,965.9 L716.5,965.8 L718.0,965.7 L719.5,965.6 L721.0,965.5 L722.5,965.4 L724.0,965.4 L725.5,965.3 L727.0,965.3 L728.5,965.2 L730.0,965.1 L731.5,965.0 L733.0,964.9 L734.5,964.8 L736.0,964.7 L737.5,964.5 L739.0,964.4 L740.5,964.2 L742.0,963.9 L743.5,963.7 L745.0,963.4 L746.5,963.0 L748.0,962.6 L749.5,962.2 L751.0,961.7 L752.5,961.2 L754.0,960.6 L755.5,960.0 L757.0,959.4 L758.5,958.7 L760.0,957.9 L761.5,957.1 L763.0,956.3 L764.5,955.4 L766.0,954.5 L767.5,953.6 L769.0,952.6 L770.5,951.5 L772.0,950.5 L773.5,949.3 L775.0,948.2 L776.5,947.0 L778.0,945.7 L779.5,944.5 L781.0,943.2 L782.5,941.8 L784.0,940.4 L785.5,939.0 L787.0,937.5 L788.5,936.0 L790.0,934.4 L791.5,932.7 L793.0,931.0 L794.5,929.2 L796.0,927.3 L797.5,925.4 L799.0,923.3 L800.5,921.2 L802.0,919.0 L803.5,916.7 L805.0,914.3 L806.5,911.7 L808.0,909.1 L809.5,906.4 L811.0,903.5 L812.5,900.6 L814.0,897.7 L815.5,894.7 L817.0,891.8 L818.5,888.9 L820.0,886.0 L821.5,883.1 L823.0,880.3 L824.5,877.5 L826.0,874.8 L827.5,872.1 L829.0,869.5 L830.5,866.9 L832.0,864.4 L833.5,862.0 L835.0,859.7 L836.5,857.4 L838.0,855.3 L839.5,853.2 L841.0,851.3 L842.5,849.4 L844.0,847.7 L845.5,846.1 L847.0,844.6 L848.5,843.3 L850.0,842.1 L851.5,841.0 L853.0,840.1 L854.5,839.3 L856.0,838.7 L857.5,838.3 L859.0,838.0 L860.5,837.8 L862.0,837.8 L863.5,838.0 L865.0,838.3 L866.5,838.7 L868.0,839.2 L869.5,839.8 L871.0,840.5 L872.5,841.4 L874.0,842.3 L875.5,843.3 L877.0,844.4 L878.5,845.5 L880.0,846.7 L881.5,848.0 L883.0,849.4 L884.5,850.7 L886.0,852.2 L887.5,853.6 L889.0,855.1 L890.5,856.6 L892.0,858.1 L893.5,859.6 L895.0,861.1 L896.5,862.6 L898.0,864.1 L899.5,865.6 L901.0,867.1 L902.5,868.6 L904.0,870.0 L905.5,871.5 L907.0,872.9 L908.5,874.3 L910.0,875.6 L911.5,877.0 L913.0,878.3 L914.5,879.6 L916.0,880.9 L917.5,882.1 L919.0,883.3 L920.5,884.4 L922.0,885.5 L923.5,886.6 L925.0,887.6 L926.5,888.6 L928.0,889.5 L929.5,890.4 L931.0,891.3 L932.5,892.1 L934.0,892.8 L935.5,893.5 L937.0,894.1 L938.5,894.6 L940.0,895.1 L941.5,895.6 L943.0,895.9 L944.5,896.2 L946.0,896.4 L947.5,896.6 L949.0,896.7 L950.5,896.7 L952.0,896.6 L953.5,896.4 L955.0,896.2 L956.5,895.9 L958.0,895.5 L959.5,895.0 L961.0,894.5 L962.5,893.9 L964.0,893.2 L965.5,892.4 L967.0,891.5 L968.5,890.5 L970.0,889.5 L971.5,888.4 L973.0,887.2 L974.5,885.9 L976.0,884.6 L977.5,883.2 L979.0,881.6 L980.5,880.0 L982.0,878.4 L983.5,876.6 L985.0,874.7 L986.5,872.8 L988.0,870.7 L989.5,868.5 L991.0,866.2 L992.5,863.8 L994.0,861.3 L995.5,858.7 L997.0,855.9 L998.5,853.0 L1000.0,849.9 L1001.5,846.7 L1003.0,843.4 L1004.5,839.9 L1006.0,836.3 L1007.5,832.6 L1009.0,828.7 L1010.5,824.7 L1012.0,820.5 L1013.5,816.3 L1015.0,811.9 L1016.5,807.4 L1018.0,802.7 L1019.5,798.0 L1021.0,793.1 L1022.5,788.2 L1024.0,783.3 L1025.5,778.4 L1027.0,773.5 L1028.5,768.6 L1030.0,763.8 L1031.5,759.2 L1033.0,754.6 L1034.5,750.2 L1036.0,745.9 L1037.5,741.8 L1039.0,737.8 L1040.5,734.1 L1042.0,730.5 L1043.5,727.1 L1045.0,723.9 L1046.5,720.9 L1048.0,718.2 L1049.5,715.7 L1051.0,713.5 L1052.5,711.5 L1054.0,709.8 L1055.5,708.3 L1057.0,707.2 L1058.5,706.4 L1060.0,705.8 L1061.5,705.6 L1063.0,705.8 L1064.5,706.3 L1066.0,707.3 L1067.5,708.6 L1069.0,710.3 L1070.5,712.5 L1072.0,715.2 L1073.5,718.3 L1075.0,721.9 L1076.5,726.0 L1078.0,730.6 L1079.5,735.8 L1081.0,741.4 L1082.5,747.5 L1084.0,753.8 L1085.5,760.4 L1087.0,767.1 L1088.5,773.8 L1090.0,780.5 L1091.5,787.1 L1093.0,793.5 L1094.5,799.8 L1096.0,806.0 L1097.5,812.0 L1099.0,817.9 L1100.5,823.7 L1102.0,829.4 L1103.5,834.9 L1105.0,840.3 L1106.5,845.6 L1108.0,850.8 L1109.5,855.9 L1111.0,860.8 L1112.5,865.7 L1114.0,870.5 L1115.5,875.2 L1117.0,879.7 L1118.5,884.2 L1120.0,888.6 L1121.5,892.9 L1123.0,897.1 L1124.5,901.3 L1126.0,905.3 L1127.5,909.3 L1129.0,913.2 L1130.5,917.0 L1132.0,920.8 L1133.5,924.5 L1135.0,928.1 L1136.5,931.7 L1138.0,935.2 L1139.5,938.7 L1141.0,942.1 L1142.5,945.5 L1144.0,948.8 L1145.5,952.0 L1147.0,955.3 L1148.5,958.4 L1150.0,961.6 L1151.5,964.7 L1153.0,967.8 L1154.5,970.8 L1156.0,973.8 L1157.5,976.8 L1159.0,979.8 L1160.5,982.7 L1162.0,985.6 L1163.5,988.5 L1165.0,991.4 L1166.5,994.3 L1168.0,997.1 L1169.5,1000.0 L1171.0,1002.8 L1172.5,1005.7 L1174.0,1008.5 L1175.5,1011.4 L1177.0,1014.2 L1178.5,1017.1 L1180.0,1020.0 L1181.5,1022.8 L1183.0,1025.7 L1184.5,1028.6 L1186.0,1031.4 L1187.5,1034.2 L1189.0,1037.0 L1190.5,1039.8 L1192.0,1042.6 L1193.5,1045.3 L1195.0,1048.0 L1196.5,1050.6 L1198.0,1053.2 L1199.5,1055.7 L1201.0,1058.2 L1202.5,1060.6 L1204.0,1063.0 L1205.5,1065.2 L1207.0,1067.4 L1208.5,1069.6 L1210.0,1071.6 L1211.5,1073.6 L1213.0,1075.5 L1214.5,1077.2 L1216.0,1078.9 L1217.5,1080.5 L1219.0,1081.9 L1220.5,1083.3 L1222.0,1084.6 L1223.5,1085.8 L1225.0,1087.0 L1226.5,1088.1 L1228.0,1089.1 L1229.5,1090.1 L1231.0,1091.0 L1232.5,1091.9 L1234.0,1092.8 L1235.5,1093.7 L1237.0,1094.5 L1238.5,1095.3 L1240.0,1096.2 L1241.5,1097.0 L1243.0,1097.8 L1244.5,1098.6 L1246.0,1099.4 L1247.5,1100.3 L1249.0,1101.0 L1250.5,1101.8 L1252.0,1102.5 L1253.5,1103.2 L1255.0,1103.8 L1256.5,1104.3 L1258.0,1104.7 L1259.5,1105.0 L1261.0,1105.3 L1262.5,1105.4 L1264.0,1105.4 L1265.5,1105.3 L1267.0,1105.1 L1268.5,1104.7 L1270.0,1104.2 L1271.5,1103.5 L1273.0,1102.7 L1274.5,1101.7 L1276.0,1100.6 L1277.5,1099.3 L1279.0,1097.9 L1280.5,1096.5 L1282.0,1094.9 L1283.5,1093.3 L1285.0,1091.7 L1286.5,1090.0 L1288.0,1088.3 L1289.5,1086.7 L1291.0,1085.1 L1292.5,1083.5 L1294.0,1082.0 L1295.5,1080.5 L1297.0,1079.2 L1298.5,1077.8 L1300.0,1076.6 L1301.5,1075.4 L1303.0,1074.3 L1304.5,1073.2 L1306.0,1072.2 L1307.5,1071.3 L1309.0,1070.4 L1310.5,1069.6 L1312.0,1068.9 L1313.5,1068.2 L1315.0,1067.6 L1316.5,1067.0 L1318.0,1066.5 L1319.5,1066.0 L1321.0,1065.6 L1322.5,1065.2 L1324.0,1064.8 L1325.5,1064.5 L1327.0,1064.2 L1328.5,1063.9 L1330.0,1063.6 L1331.5,1063.4 L1333.0,1063.2 L1334.5,1062.9 L1336.0,1062.7 L1337.5,1062.5 L1339.0,1062.3 L1340.5,1062.0 L1342.0,1061.8 L1343.5,1061.6 L1345.0,1061.3 L1346.5,1061.0 L1348.0,1060.8 L1349.5,1060.5 L1351.0,1060.2 L1352.5,1059.9 L1354.0,1059.6 L1355.5,1059.3 L1357.0,1059.0 L1358.5,1058.7 L1360.0,1058.4 L1361.5,1058.1 L1363.0,1057.7 L1364.5,1057.4 L1366.0,1057.1 L1367.5,1056.7 L1369.0,1056.4 L1370.5,1056.0 L1372.0,1055.7 L1373.5,1055.3 L1375.0,1055.0 L1376.5,1054.6 L1378.0,1054.2 L1379.5,1053.9 L1381.0,1053.5 L1382.5,1053.1 L1384.0,1052.8 L1385.5,1052.4 L1387.0,1052.0 L1388.5,1051.7 L1390.0,1051.3 L1391.5,1050.9 L1393.0,1050.5 L1394.5,1050.1 L1396.0,1049.8 L1397.5,1049.4 L1399.0,1049.0 L1400.5,1048.6 L1402.0,1048.1 L1403.5,1047.7 L1405.0,1047.3 L1406.5,1046.8 L1408.0,1046.3 L1409.5,1045.8 L1411.0,1045.3 L1412.5,1044.8 L1414.0,1044.2 L1415.5,1043.7 L1417.0,1043.1 L1418.5,1042.5 L1420.0,1041.8 L1421.5,1041.1 L1423.0,1040.4 L1424.5,1039.7 L1426.0,1038.9 L1427.5,1038.1 L1429.0,1037.3 L1430.5,1036.4 L1432.0,1035.5 L1433.5,1034.6 L1435.0,1033.6 L1436.5,1032.6 L1438.0,1031.5 L1439.5,1030.4 L1441.0,1029.2 L1442.5,1028.0 L1444.0,1026.8 L1445.5,1025.5 L1447.0,1024.1 L1448.5,1022.8 L1450.0,1021.4 L1451.5,1019.9 L1453.0,1018.5 L1454.5,1017.0 L1456.0,1015.6 L1457.5,1014.1 L1459.0,1012.7 L1460.5,1011.2 L1462.0,1009.8 L1463.5,1008.4 L1465.0,1007.1 L1466.5,1005.7 L1468.0,1004.5 L1469.5,1003.2 L1471.0,1002.0 L1472.5,1000.9 L1474.0,999.8 L1475.5,998.7 L1477.0,997.7 L1478.5,996.7 L1480.0,995.8 L1481.5,994.8 L1483.0,993.9 L1484.5,993.1 L1486.0,992.2 L1487.5,991.4 L1489.0,990.6 L1490.5,989.8 L1492.0,989.0 L1493.5,988.3 L1495.0,987.5 L1496.5,986.8 L1498.0,986.1 L1499.5,985.3 L1501.0,984.6 L1502.5,983.9 L1504.0,983.2 L1505.5,982.4 L1507.0,981.7 L1508.5,981.0 L1510.0,980.3 L1511.5,979.5 L1513.0,978.8 L1514.5,978.1 L1516.0,977.4 L1517.5,976.6 L1519.0,975.9 L1520.5,975.1 L1522.0,974.4 L1523.5,973.6 L1525.0,972.9 L1526.5,972.1 L1528.0,971.3 L1529.5,970.5 L1531.0,969.7 L1532.5,968.9 L1534.0,968.1 L1535.5,967.3 L1537.0,966.5 L1538.5,965.6 L1540.0,964.7 L1541.5,963.9 L1543.0,963.0 L1544.5,962.1 L1546.0,961.1 L1547.5,960.2 L1549.0,959.2 L1550.5,958.3 L1552.0,957.3 L1553.5,956.3 L1555.0,955.2 L1556.5,954.2 L1558.0,953.1 L1559.5,952.0 L1561.0,950.9 L1562.5,949.8 L1564.0,948.6 L1565.5,947.5 L1567.0,946.2 L1568.5,945.0 L1570.0,943.8 L1571.5,942.5 L1573.0,941.2 L1574.5,939.8 L1576.0,938.5 L1577.5,937.1 L1579.0,935.7 L1580.5,934.2 L1582.0,932.7 L1583.5,931.2 L1585.0,929.7 L1586.5,928.1 L1588.0,926.5 L1589.5,924.9 L1591.0,923.2 L1592.5,921.5 L1594.0,919.8 L1595.5,918.1 L1597.0,916.4 L1598.5,914.6 L1600.0,912.8 L1601.5,911.0 L1603.0,909.2 L1604.5,907.4 L1606.0,905.6 L1607.5,903.8 L1609.0,901.9 L1610.5,900.1 L1612.0,898.3 L1613.5,896.5 L1615.0,894.6 L1616.5,892.8 L1618.0,891.0 L1619.5,889.2 L1621.0,887.5 L1622.5,885.7 L1624.0,883.9 L1625.5,882.2 L1627.0,880.5 L1628.5,878.8 L1630.0,877.1 L1631.5,875.5 L1633.0,873.9 L1634.5,872.3 L1636.0,870.7 L1637.5,869.2 L1639.0,867.6 L1640.5,866.1 L1642.0,864.6 L1643.5,863.2 L1645.0,861.7 L1646.5,860.3 L1648.0,858.9 L1649.5,857.5 L1651.0,856.1 L1652.5,854.8 L1654.0,853.4 L1655.5,852.1 L1657.0,850.8 L1658.5,849.5 L1660.0,848.3 L1661.5,847.0 L1663.0,845.8 L1664.5,844.6 L1666.0,843.4 L1667.5,842.2 L1669.0,841.0 L1670.5,839.9 L1672.0,838.8 L1673.5,837.6 L1675.0,836.5 L1676.5,835.4 L1678.0,834.4 L1679.5,833.3 L1681.0,832.3 L1682.5,831.2 L1684.0,830.2 L1685.5,829.2 L1687.0,828.2 L1688.5,827.3 L1690.0,826.3 L1691.5,825.4 L1693.0,824.4 L1694.5,823.5 L1696.0,822.7 L1697.5,821.8 L1699.0,820.9 L1700.5,820.1 L1702.0,819.3 L1703.5,818.4 L1705.0,817.7 L1706.5,816.9 L1708.0,816.1 L1709.5,815.4 L1711.0,814.7 L1712.5,813.9 L1714.0,813.3 L1715.5,812.6 L1717.0,811.9 L1718.5,811.3 L1720.0,810.7 L1721.5,810.1 L1723.0,809.5 L1724.5,808.9 L1726.0,808.3 L1727.5,807.8 L1729.0,807.3 L1730.5,806.8 L1732.0,806.3 L1733.5,805.8 L1735.0,805.4 L1736.5,805.0 L1738.0,804.5 L1739.5,804.2 L1741.0,803.8 L1742.5,803.4 L1744.0,803.1 L1745.5,802.8 L1747.0,802.5 L1748.5,802.2 L1750.0,801.9 L1751.5,801.7 L1753.0,801.4 L1754.5,801.2 L1756.0,801.0 L1757.5,800.9 L1759.0,800.7 L1760.5,800.6 L1762.0,800.5 L1763.5,800.4 L1765.0,800.3 L1766.5,800.3 L1768.0,800.2 L1769.5,800.2 L1771.0,800.2 L1772.5,800.3 L1774.0,800.3 L1775.5,800.4 L1777.0,800.4 L1778.5,800.6 L1780.0,800.7 L1781.5,800.8 L1783.0,801.0 L1784.5,801.2 L1786.0,801.4 L1787.5,801.6 L1789.0,801.9 L1790.5,802.1 L1792.0,802.4 L1793.5,802.7 L1795.0,803.1 L1796.5,803.4 L1798.0,803.8 L1799.5,804.2 L1801.0,804.6 L1802.5,805.0 L1804.0,805.5 L1805.5,806.0 L1807.0,806.5 L1808.5,807.0 L1810.0,807.5 L1811.5,808.1 L1813.0,808.6 L1814.5,809.2 L1816.0,809.8 L1817.5,810.5 L1819.0,811.1 L1820.5,811.8 L1822.0,812.5 L1823.5,813.2 L1825.0,813.9 L1826.5,814.6 L1828.0,815.4 L1829.5,816.1 L1831.0,816.9 L1832.5,817.7 L1834.0,818.5 L1835.5,819.3 L1837.0,820.2 L1838.5,821.0 L1840.0,821.9 L1841.5,822.8 L1843.0,823.7 L1844.5,824.6 L1846.0,825.5 L1847.5,826.4 L1849.0,827.4 L1850.5,828.3 L1852.0,829.3 L1853.5,830.3 L1855.0,831.3 L1856.5,832.3 L1858.0,833.3 L1859.5,834.4 L1861.0,835.4 L1862.5,836.4 L1864.0,837.5 L1865.5,838.6 L1867.0,839.6 L1868.5,840.7 L1870.0,841.8 L1871.5,842.9 L1873.0,844.0 L1874.5,845.1 L1876.0,846.2 L1877.5,847.3 L1879.0,848.4 L1880.5,849.5 L1882.0,850.6 L1883.5,851.7 L1885.0,852.8 L1886.5,853.9 L1888.0,854.9 L1889.5,856.0 L1891.0,857.0 L1892.5,858.1 L1894.0,859.1 L1895.5,860.1 L1897.0,861.1 L1898.5,862.0 L1900.0,863.0 L1901.5,863.9 L1903.0,864.8 L1904.5,865.7 L1906.0,866.6 L1907.5,867.5 L1909.0,868.3 L1910.5,869.1 L1912.0,869.8" stroke="#00B050"/>
<path d="M100.0,1422.9 L101.5,1422.9 L103.0,1422.9 L104.5,1422.9 L106.0,1422.9 L107.5,1422.9 L109.0,1422.9 L110.5,1422.9 L112.0,1422.9 L113.5,1422.9 L115.0,1422.9 L116.5,1422.9 L118.0,1422.9 L119.5,1422.9 L121.0,1422.9 L122.5,1422.9 L124.0,1422.9 L125.5,1422.9 L127.0,1422.9 L128.5,1422.9 L130.0,1422.9 L131.5,1422.9 L133.0,1422.9 L134.5,1422.9 L136.0,1422.9 L137.5,1422.9 L139.0,1422.9 L140.5,1422.9 L142.0,1422.9 L143.5,1422.9 L145.0,1422.9 L146.5,1422.9 L148.0,1422.9 L149.5,1422.9 L151.0,1422.9 L152.5,1422.9 L154.0,1422.9 L155.5,1422.9 L157.0,1422.9 L158.5,1422.9 L160.0,1422.9 L161.5,1422.9 L163.0,1422.9 L164.5,1422.9 L166.0,1422.9 L167.5,1422.9 L169.0,1422.9 L170.5,1422.9 L172.0,1422.9 L173.5,1422.9 L175.0,1422.9 L176.5,1422.9 L178.0,1422.9 L179.5,1422.9 L181.0,1422.9 L182.5,1422.9 L184.0,1422.9 L185.5,1422.9 L187.0,1422.9 L188.5,1422.9 L190.0,1422.9 L191.5,1422.9 L193.0,1422.9 L194.5,1422.9 L196.0,1422.9 L197.5,1422.9 L199.0,1422.9 L200.5,1422.9 L202.0,1422.9 L203.5,1422.9 L205.0,1422.9 L206.5,1422.9 L208.0,1422.9 L209.5,1422.9 L211.0,1422.9 L212.5,1422.9 L214.0,1422.9 L215.5,1422.9 L217.0,1422.9 L218.5,1422.9 L220.0,1422.9 L221.5,1422.9 L223.0,1422.9 L224.5,1422.9 L226.0,1423.0 L227.5,1423.0 L229.0,1423.0 L230.5,1423.0 L232.0,1423.0 L233.5,1423.0 L235.0,1423.0 L236.5,1423.0 L238.0,1423.0 L239.5,1423.0 L241.0,1423.0 L242.5,1423.0 L244.0,1423.0 L245.5,1423.0 L247.0,1423.0 L248.5,1423.0 L250.0,1423.0 L251.5,1423.0 L253.0,1423.0 L254.5,1423.0 L256.0,1423.0 L257.5,1423.0 L259.0,1423.0 L260.5,1423.0 L262.0,1423.0 L263.5,1423.0 L265.0,1423.0 L266.5,1423.0 L268.0,1423.0 L269.5,1423.0 L271.0,1423.0 L272.5,1423.0 L274.0,1423.0 L275.5,1423.0 L277.0,1423.0 L278.5,1423.0 L280.0,1423.0 L281.5,1423.0 L283.0,1423.0 L284.5,1423.0 L286.0,1423.0 L287.5,1423.0 L289.0,1423.0 L290.5,1423.0 L292.0,1423.0 L293.5,1423.0 L295.0,1423.0 L296.5,1423.0 L298.0,1423.0 L299.5,1423.0 L301.0,1423.0 L302.5,1423.0 L304.0,1423.0 L305.5,1423.0 L307.0,1423.0 L308.5,1423.0 L310.0,1423.0 L311.5,1423.0 L313.0,1423.0 L314.5,1423.0 L316.0,1423.0 L317.5,1423.0 L319.0,1423.0 L320.5,1423.0 L322.0,1423.0 L323.5,1423.0 L325.0,1423.0 L326.5,1423.0 L328.0,1423.0 L329.5,1423.0 L331.0,1423.0 L332.5,1423.0 L334.0,1422.9 L335.5,1422.9 L337.0,1422.9 L338.5,1422.9 L340.0,1422.9 L341.5,1422.9 L343.0,1422.9 L344.5,1422.9 L346.0,1422.9 L347.5,1422.9 L349.0,1422.9 L350.5,1422.9 L352.0,1422.9 L353.5,1422.9 L355.0,1422.9 L356.5,1422.9 L358.0,1422.9 L359.5,1422.9 L361.0,1422.9 L362.5,1422.9 L364.0,1422.9 L365.5,1422.9 L367.0,1422.8 L368.5,1422.8 L370.0,1422.8 L371.5,1422.8 L373.0,1422.8 L374.5,1422.8 L376.0,1422.8 L377.5,1422.8 L379.0,1422.8 L380.5,1422.8 L382.0,1422.8 L383.5,1422.8 L385.0,1422.8 L386.5,1422.7 L388.0,1422.7 L389.5,1422.7 L391.0,1422.7 L392.5,1422.7 L394.0,1422.7 L395.5,1422.7 L397.0,1422.7 L398.5,1422.7 L400.0,1422.7 L401.5,1422.7 L403.0,1422.6 L404.5,1422.6 L406.0,1422.6 L407.5,1422.6 L409.0,1422.6 L410.5,1422.6 L412.0,1422.6 L413.5,1422.6 L415.0,1422.6 L416.5,1422.5 L418.0,1422.5 L419.5,1422.5 L421.0,1422.5 L422.5,1422.5 L424.0,1422.5 L425.5,1422.5 L427.0,1422.5 L428.5,1422.4 L430.0,1422.4 L431.5,1422.4 L433.0,1422.4 L434.5,1422.4 L436.0,1422.4 L437.5,1422.3 L439.0,1422.3 L440.5,1422.3 L442.0,1422.3 L443.5,1422.3 L445.0,1422.3 L446.5,1422.3 L448.0,1422.2 L449.5,1422.2 L451.0,1422.2 L452.5,1422.2 L454.0,1422.2 L455.5,1422.1 L457.0,1422.1 L458.5,1422.1 L460.0,1422.1 L461.5,1422.1 L463.0,1422.1 L464.5,1422.0 L466.0,1422.0 L467.5,1422.0 L469.0,1422.0 L470.5,1422.0 L472.0,1421.9 L473.5,1421.9 L475.0,1421.9 L476.5,1421.9 L478.0,1421.8 L479.5,1421.8 L481.0,1421.8 L482.5,1421.8 L484.0,1421.8 L485.5,1421.7 L487.0,1421.7 L488.5,1421.7 L490.0,1421.7 L491.5,1421.6 L493.0,1421.6 L494.5,1421.6 L496.0,1421.6 L497.5,1421.5 L499.0,1421.5 L500.5,1421.5 L502.0,1421.5 L503.5,1421.4 L505.0,1421.4 L506.5,1421.4 L508.0,1421.4 L509.5,1421.3 L511.0,1421.3 L512.5,1421.3 L514.0,1421.3 L515.5,1421.2 L517.0,1421.2 L518.5,1421.2 L520.0,1421.1 L521.5,1421.1 L523.0,1421.1 L524.5,1421.1 L526.0,1421.0 L527.5,1421.0 L529.0,1421.0 L530.5,1420.9 L532.0,1420.9 L533.5,1420.9 L535.0,1420.9 L536.5,1420.8 L538.0,1420.8 L539.5,1420.8 L541.0,1420.7 L542.5,1420.7 L544.0,1420.7 L545.5,1420.7 L547.0,1420.6 L548.5,1420.6 L550.0,1420.6 L551.5,1420.5 L553.0,1420.5 L554.5,1420.5 L556.0,1420.5 L557.5,1420.4 L559.0,1420.4 L560.5,1420.4 L562.0,1420.3 L563.5,1420.3 L565.0,1420.3 L566.5,1420.3 L568.0,1420.2 L569.5,1420.2 L571.0,1420.2 L572.5,1420.1 L574.0,1420.1 L575.5,1420.1 L577.0,1420.0 L578.5,1420.0 L580.0,1419.9 L581.5,1419.8 L583.0,1419.8 L584.5,1419.7 L586.0,1419.6 L587.5,1419.4 L589.0,1419.3 L590.5,1419.1 L592.0,1418.9 L593.5,1418.7 L595.0,1418.5 L596.5,1418.2 L598.0,1417.9 L599.5,1417.6 L601.0,1417.3 L602.5,1416.9 L604.0,1416.5 L605.5,1416.0 L607.0,1415.5 L608.5,1415.0 L610.0,1414.5 L611.5,1413.9 L613.0,1413.3 L614.5,1412.7 L616.0,1412.1 L617.5,1411.4 L619.0,1410.7 L620.5,1410.0 L622.0,1409.3 L623.5,1408.6 L625.0,1407.9 L626.5,1407.1 L628.0,1406.4 L629.5,1405.6 L631.0,1404.8 L632.5,1404.0 L634.0,1403.3 L635.5,1402.5 L637.0,1401.7 L638.5,1400.8 L640.0,1400.0 L641.5,1399.2 L643.0,1398.4 L644.5,1397.5 L646.0,1396.7 L647.5,1395.8 L649.0,1394.9 L650.5,1394.1 L652.0,1393.2 L653.5,1392.3 L655.0,1391.4 L656.5,1390.5 L658.0,1389.6 L659.5,1388.7 L661.0,1387.8 L662.5,1386.9 L664.0,1385.9 L665.5,1385.0 L667.0,1384.1 L668.5,1383.1 L670.0,1382.2 L671.5,1381.2 L673.0,1380.3 L674.5,1379.3 L676.0,1378.4 L677.5,1377.4 L679.0,1376.4 L680.5,1375.4 L682.0,1374.5 L683.5,1373.5 L685.0,1372.5 L686.5,1371.5 L688.0,1370.5 L689.5,1369.5 L691.0,1368.5 L692.5,1367.5 L694.0,1366.5 L695.5,1365.5 L697.0,1364.5 L698.5,1363.5 L700.0,1362.5 L701.5,1361.5 L703.0,1360.5 L704.5,1359.4 L706.0,1358.4 L707.5,1357.4 L709.0,1356.4 L710.5,1355.4 L712.0,1354.4 L713.5,1353.3 L715.0,1352.3 L716.5,1351.3 L718.0,1350.3 L719.5,1349.3 L721.0,1348.2 L722.5,1347.2 L724.0,1346.2 L725.5,1345.2 L727.0,1344.2 L728.5,1343.2 L730.0,1342.1 L731.5,1341.1 L733.0,1340.1 L734.5,1339.1 L736.0,1338.1 L737.5,1337.1 L739.0,1336.1 L740.5,1335.1 L742.0,1334.1 L743.5,1333.1 L745.0,1332.1 L746.5,1331.1 L748.0,1330.1 L749.5,1329.1 L751.0,1328.2 L752.5,1327.2 L754.0,1326.2 L755.5,1325.3 L757.0,1324.3 L758.5,1323.3 L760.0,1322.4 L761.5,1321.4 L763.0,1320.5 L764.5,1319.5 L766.0,1318.6 L767.5,1317.7 L769.0,1316.7 L770.5,1315.8 L772.0,1314.9 L773.5,1314.0 L775.0,1313.1 L776.5,1312.2 L778.0,1311.3 L779.5,1310.4 L781.0,1309.5 L782.5,1308.6 L784.0,1307.7 L785.5,1306.8 L787.0,1305.9 L788.5,1305.0 L790.0,1304.2 L791.5,1303.3 L793.0,1302.4 L794.5,1301.6 L796.0,1300.7 L797.5,1299.9 L799.0,1299.0 L800.5,1298.2 L802.0,1297.3 L803.5,1296.5 L805.0,1295.6 L806.5,1294.8 L808.0,1294.0 L809.5,1293.1 L811.0,1292.3 L812.5,1291.5 L814.0,1290.7 L815.5,1289.8 L817.0,1289.0 L818.5,1288.2 L820.0,1287.4 L821.5,1286.6 L823.0,1285.8 L824.5,1285.0 L826.0,1284.2 L827.5,1283.4 L829.0,1282.6 L830.5,1281.8 L832.0,1281.0 L833.5,1280.3 L835.0,1279.5 L836.5,1278.8 L838.0,1278.0 L839.5,1277.3 L841.0,1276.6 L842.5,1275.9 L844.0,1275.2 L845.5,1274.5 L847.0,1273.9 L848.5,1273.3 L850.0,1272.6 L851.5,1272.0 L853.0,1271.4 L854.5,1270.9 L856.0,1270.3 L857.5,1269.8 L859.0,1269.3 L860.5,1268.8 L862.0,1268.4 L863.5,1267.9 L865.0,1267.5 L866.5,1267.1 L868.0,1266.7 L869.5,1266.4 L871.0,1266.0 L872.5,1265.7 L874.0,1265.4 L875.5,1265.0 L877.0,1264.7 L878.5,1264.4 L880.0,1264.0 L881.5,1263.7 L883.0,1263.3 L884.5,1263.0 L886.0,1262.6 L887.5,1262.2 L889.0,1261.8 L890.5,1261.4 L892.0,1260.9 L893.5,1260.4 L895.0,1259.9 L896.5,1259.4 L898.0,1258.9 L899.5,1258.4 L901.0,1257.9 L902.5,1257.5 L904.0,1257.1 L905.5,1256.7 L907.0,1256.4 L908.5,1256.2 L910.0,1256.0 L911.5,1255.9 L913.0,1255.8 L914.5,1255.8 L916.0,1255.8 L917.5,1255.9 L919.0,1256.0 L920.5,1256.1 L922.0,1256.3 L923.5,1256.5 L925.0,1256.8 L926.5,1257.1 L928.0,1257.4 L929.5,1257.7 L931.0,1258.1 L932.5,1258.4 L934.0,1258.8 L935.5,1259.2 L937.0,1259.6 L938.5,1260.0 L940.0,1260.4 L941.5,1260.8 L943.0,1261.2 L944.5,1261.6 L946.0,1262.0 L947.5,1262.4 L949.0,1262.7 L950.5,1263.1 L952.0,1263.4 L953.5,1263.7 L955.0,1264.0 L956.5,1264.3 L958.0,1264.5 L959.5,1264.7 L961.0,1264.9 L962.5,1265.1 L964.0,1265.2 L965.5,1265.3 L967.0,1265.4 L968.5,1265.5 L970.0,1265.5 L971.5,1265.5 L973.0,1265.5 L974.5,1265.4 L976.0,1265.3 L977.5,1265.1 L979.0,1265.0 L980.5,1264.8 L982.0,1264.5 L983.5,1264.3 L985.0,1263.9 L986.5,1263.6 L988.0,1263.2 L989.5,1262.8 L991.0,1262.3 L992.5,1261.8 L994.0,1261.2 L995.5,1260.6 L997.0,1260.0 L998.5,1259.3 L1000.0,1258.6 L1001.5,1257.8 L1003.0,1257.0 L1004.5,1256.2 L1006.0,1255.3 L1007.5,1254.4 L1009.0,1253.5 L1010.5,1252.6 L1012.0,1251.6 L1013.5,1250.6 L1015.0,1249.6 L1016.5,1248.6 L1018.0,1247.6 L1019.5,1246.5 L1021.0,1245.4 L1022.5,1244.3 L1024.0,1243.2 L1025.5,1242.1 L1027.0,1241.0 L1028.5,1239.9 L1030.0,1238.8 L1031.5,1237.6 L1033.0,1236.5 L1034.5,1235.4 L1036.0,1234.3 L1037.5,1233.2 L1039.0,1232.0 L1040.5,1230.9 L1042.0,1229.9 L1043.5,1228.8 L1045.0,1227.7 L1046.5,1226.7 L1048.0,1225.7 L1049.5,1224.7 L1051.0,1223.7 L1052.5,1222.7 L1054.0,1221.8 L1055.5,1221.0 L1057.0,1220.1 L1058.5,1219.3 L1060.0,1218.6 L1061.5,1217.8 L1063.0,1217.2 L1064.5,1216.6 L1066.0,1216.0 L1067.5,1215.5 L1069.0,1215.0 L1070.5,1214.6 L1072.0,1214.3 L1073.5,1214.0 L1075.0,1213.8 L1076.5,1213.7 L1078.0,1213.7 L1079.5,1213.7 L1081.0,1213.8 L1082.5,1214.1 L1084.0,1214.4 L1085.5,1214.9 L1087.0,1215.4 L1088.5,1216.1 L1090.0,1216.9 L1091.5,1217.9 L1093.0,1218.9 L1094.5,1220.1 L1096.0,1221.5 L1097.5,1222.9 L1099.0,1224.5 L1100.5,1226.1 L1102.0,1227.9 L1103.5,1229.8 L1105.0,1231.8 L1106.5,1233.9 L1108.0,1236.1 L1109.5,1238.3 L1111.0,1240.7 L1112.5,1243.1 L1114.0,1245.6 L1115.5,1248.2 L1117.0,1250.8 L1118.5,1253.5 L1120.0,1256.3 L1121.5,1259.1 L1123.0,1262.0 L1124.5,1264.9 L1126.0,1267.9 L1127.5,1270.9 L1129.0,1273.9 L1130.5,1277.0 L1132.0,1280.1 L1133.5,1283.3 L1135.0,1286.4 L1136.5,1289.6 L1138.0,1292.7 L1139.5,1295.9 L1141.0,1299.1 L1142.5,1302.3 L1144.0,1305.5 L1145.5,1308.7 L1147.0,1311.9 L1148.5,1315.0 L1150.0,1318.1 L1151.5,1321.3 L1153.0,1324.3 L1154.5,1327.4 L1156.0,1330.4 L1157.5,1333.4 L1159.0,1336.3 L1160.5,1339.2 L1162.0,1342.0 L1163.5,1344.8 L1165.0,1347.5 L1166.5,1350.1 L1168.0,1352.7 L1169.5,1355.1 L1171.0,1357.5 L1172.5,1359.9 L1174.0,1362.1 L1175.5,1364.3 L1177.0,1366.3 L1178.5,1368.3 L1180.0,1370.1 L1181.5,1371.8 L1183.0,1373.5 L1184.5,1375.0 L1186.0,1376.5 L1187.5,1377.9 L1189.0,1379.1 L1190.5,1380.3 L1192.0,1381.4 L1193.5,1382.5 L1195.0,1383.4 L1196.5,1384.3 L1198.0,1385.1 L1199.5,1385.9 L1201.0,1386.6 L1202.5,1387.2 L1204.0,1387.7 L1205.5,1388.2 L1207.0,1388.7 L1208.5,1389.1 L1210.0,1389.4 L1211.5,1389.7 L1213.0,1390.0 L1214.5,1390.2 L1216.0,1390.4 L1217.5,1390.6 L1219.0,1390.7 L1220.5,1390.8 L1222.0,1390.8 L1223.5,1390.9 L1225.0,1390.9 L1226.5,1390.9 L1228.0,1390.9 L1229.5,1390.9 L1231.0,1390.8 L1232.5,1390.8 L1234.0,1390.7 L1235.5,1390.6 L1237.0,1390.5 L1238.5,1390.3 L1240.0,1390.2 L1241.5,1390.0 L1243.0,1389.9 L1244.5,1389.7 L1246.0,1389.5 L1247.5,1389.2 L1249.0,1389.0 L1250.5,1388.8 L1252.0,1388.5 L1253.5,1388.2 L1255.0,1388.0 L1256.5,1387.7 L1258.0,1387.4 L1259.5,1387.1 L1261.0,1386.7 L1262.5,1386.4 L1264.0,1386.1 L1265.5,1385.7 L1267.0,1385.4 L1268.5,1385.0 L1270.0,1384.6 L1271.5,1384.2 L1273.0,1383.8 L1274.5,1383.4 L1276.0,1383.0 L1277.5,1382.6 L1279.0,1382.2 L1280.5,1381.8 L1282.0,1381.3 L1283.5,1380.9 L1285.0,1380.5 L1286.5,1380.0 L1288.0,1379.6 L1289.5,1379.1 L1291.0,1378.7 L1292.5,1378.2 L1294.0,1377.8 L1295.5,1377.3 L1297.0,1376.9 L1298.5,1376.4 L1300.0,1375.9 L1301.5,1375.5 L1303.0,1375.0 L1304.5,1374.5 L1306.0,1374.1 L1307.5,1373.6 L1309.0,1373.1 L1310.5,1372.6 L1312.0,1372.2 L1313.5,1371.7 L1315.0,1371.2 L1316.5,1370.7 L1318.0,1370.2 L1319.5,1369.7 L1321.0,1369.2 L1322.5,1368.8 L1324.0,1368.3 L1325.5,1367.8 L1327.0,1367.3 L1328.5,1366.7 L1330.0,1366.2 L1331.5,1365.7 L1333.0,1365.2 L1334.5,1364.7 L1336.0,1364.2 L1337.5,1363.7 L1339.0,1363.2 L1340.5,1362.6 L1342.0,1362.1 L1343.5,1361.6 L1345.0,1361.0 L1346.5,1360.5 L1348.0,1360.0 L1349.5,1359.4 L1351.0,1358.9 L1352.5,1358.3 L1354.0,1357.8 L1355.5,1357.2 L1357.0,1356.7 L1358.5,1356.1 L1360.0,1355.5 L1361.5,1355.0 L1363.0,1354.4 L1364.5,1353.8 L1366.0,1353.3 L1367.5,1352.7 L1369.0,1352.1 L1370.5,1351.5 L1372.0,1350.9 L1373.5,1350.3 L1375.0,1349.7 L1376.5,1349.1 L1378.0,1348.5 L1379.5,1347.9 L1381.0,1347.3 L1382.5,1346.7 L1384.0,1346.1 L1385.5,1345.4 L1387.0,1344.8 L1388.5,1344.2 L1390.0,1343.5 L1391.5,1342.9 L1393.0,1342.3 L1394.5,1341.6 L1396.0,1341.0 L1397.5,1340.3 L1399.0,1339.6 L1400.5,1339.0 L1402.0,1338.3 L1403.5,1337.6 L1405.0,1337.0 L1406.5,1336.3 L1408.0,1335.6 L1409.5,1334.9 L1411.0,1334.2 L1412.5,1333.5 L1414.0,1332.8 L1415.5,1332.1 L1417.0,1331.4 L1418.5,1330.7 L1420.0,1330.0 L1421.5,1329.2 L1423.0,1328.5 L1424.5,1327.8 L1426.0,1327.0 L1427.5,1326.3 L1429.0,1325.5 L1430.5,1324.8 L1432.0,1324.0 L1433.5,1323.3 L1435.0,1322.5 L1436.5,1321.7 L1438.0,1320.9 L1439.5,1320.1 L1441.0,1319.4 L1442.5,1318.6 L1444.0,1317.8 L1445.5,1317.0 L1447.0,1316.1 L1448.5,1315.3 L1450.0,1314.5 L1451.5,1313.7 L1453.0,1312.9 L1454.5,1312.0 L1456.0,1311.2 L1457.5,1310.4 L1459.0,1309.5 L1460.5,1308.7 L1462.0,1307.8 L1463.5,1307.0 L1465.0,1306.2 L1466.5,1305.3 L1468.0,1304.5 L1469.5,1303.6 L1471.0,1302.7 L1472.5,1301.9 L1474.0,1301.0 L1475.5,1300.2 L1477.0,1299.3 L1478.5,1298.5 L1480.0,1297.6 L1481.5,1296.7 L1483.0,1295.9 L1484.5,1295.0 L1486.0,1294.1 L1487.5,1293.3 L1489.0,1292.4 L1490.5,1291.6 L1492.0,1290.7 L1493.5,1289.9 L1495.0,1289.0 L1496.5,1288.1 L1498.0,1287.3 L1499.5,1286.4 L1501.0,1285.5 L1502.5,1284.7 L1504.0,1283.8 L1505.5,1282.9 L1507.0,1282.0 L1508.5,1281.1 L1510.0,1280.2 L1511.5,1279.3 L1513.0,1278.4 L1514.5,1277.4 L1516.0,1276.5 L1517.5,1275.5 L1519.0,1274.5 L1520.5,1273.5 L1522.0,1272.5 L1523.5,1271.5 L1525.0,1270.5 L1526.5,1269.4 L1528.0,1268.4 L1529.5,1267.3 L1531.0,1266.2 L1532.5,1265.0 L1534.0,1263.9 L1535.5,1262.7 L1537.0,1261.5 L1538.5,1260.3 L1540.0,1259.1 L1541.5,1257.8 L1543.0,1256.5 L1544.5,1255.2 L1546.0,1253.9 L1547.5,1252.6 L1549.0,1251.2 L1550.5,1249.8 L1552.0,1248.4 L1553.5,1247.1 L1555.0,1245.7 L1556.5,1244.3 L1558.0,1242.8 L1559.5,1241.4 L1561.0,1240.0 L1562.5,1238.6 L1564.0,1237.2 L1565.5,1235.8 L1567.0,1234.4 L1568.5,1233.0 L1570.0,1231.6 L1571.5,1230.3 L1573.0,1228.9 L1574.5,1227.6 L1576.0,1226.3 L1577.5,1224.9 L1579.0,1223.6 L1580.5,1222.3 L1582.0,1220.9 L1583.5,1219.5 L1585.0,1218.1 L1586.5,1216.6 L1588.0,1215.1 L1589.5,1213.5 L1591.0,1211.8 L1592.5,1210.1 L1594.0,1208.3 L1595.5,1206.5 L1597.0,1204.6 L1598.5,1202.7 L1600.0,1200.7 L1601.5,1198.7 L1603.0,1196.8 L1604.5,1194.7 L1606.0,1192.7 L1607.5,1190.7 L1609.0,1188.7 L1610.5,1186.7 L1612.0,1184.8 L1613.5,1182.8 L1615.0,1180.9 L1616.5,1179.0 L1618.0,1177.2 L1619.5,1175.4 L1621.0,1173.6 L1622.5,1171.9 L1624.0,1170.2 L1625.5,1168.5 L1627.0,1166.8 L1628.5,1165.2 L1630.0,1163.5 L1631.5,1161.8 L1633.0,1160.2 L1634.5,1158.5 L1636.0,1156.8 L1637.5,1155.2 L1639.0,1153.5 L1640.5,1151.9 L1642.0,1150.2 L1643.5,1148.6 L1645.0,1147.0 L1646.5,1145.3 L1648.0,1143.7 L1649.5,1142.1 L1651.0,1140.5 L1652.5,1138.8 L1654.0,1137.2 L1655.5,1135.6 L1657.0,1134.1 L1658.5,1132.5 L1660.0,1130.9 L1661.5,1129.3 L1663.0,1127.8 L1664.5,1126.2 L1666.0,1124.7 L1667.5,1123.2 L1669.0,1121.7 L1670.5,1120.2 L1672.0,1118.7 L1673.5,1117.2 L1675.0,1115.7 L1676.5,1114.3 L1678.0,1112.8 L1679.5,1111.4 L1681.0,1110.0 L1682.5,1108.6 L1684.0,1107.2 L1685.5,1105.8 L1687.0,1104.4 L1688.5,1103.1 L1690.0,1101.7 L1691.5,1100.4 L1693.0,1099.1 L1694.5,1097.8 L1696.0,1096.5 L1697.5,1095.3 L1699.0,1094.1 L1700.5,1092.8 L1702.0,1091.6 L1703.5,1090.5 L1705.0,1089.4 L1706.5,1088.3 L1708.0,1087.2 L1709.5,1086.2 L1711.0,1085.3 L1712.5,1084.4 L1714.0,1083.5 L1715.5,1082.7 L1717.0,1082.0 L1718.5,1081.4 L1720.0,1080.8 L1721.5,1080.3 L1723.0,1079.9 L1724.5,1079.5 L1726.0,1079.2 L1727.5,1078.9 L1729.0,1078.7 L1730.5,1078.5 L1732.0,1078.4 L1733.5,1078.3 L1735.0,1078.2 L1736.5,1078.1 L1738.0,1078.0 L1739.5,1078.0 L1741.0,1077.9 L1742.5,1077.9 L1744.0,1077.8 L1745.5,1077.7 L1747.0,1077.6 L1748.5,1077.4 L1750.0,1077.3 L1751.5,1077.1 L1753.0,1076.9 L1754.5,1076.6 L1756.0,1076.3 L1757.5,1075.9 L1759.0,1075.5 L1760.5,1075.1 L1762.0,1074.6 L1763.5,1074.2 L1765.0,1073.8 L1766.5,1073.3 L1768.0,1072.9 L1769.5,1072.6 L1771.0,1072.2 L1772.5,1071.9 L1774.0,1071.7 L1775.5,1071.5 L1777.0,1071.3 L1778.5,1071.2 L1780.0,1071.2 L1781.5,1071.1 L1783.0,1071.2 L1784.5,1071.3 L1786.0,1071.4 L1787.5,1071.5 L1789.0,1071.7 L1790.5,1072.0 L1792.0,1072.3 L1793.5,1072.6 L1795.0,1073.0 L1796.5,1073.4 L1798.0,1073.8 L1799.5,1074.3 L1801.0,1074.8 L1802.5,1075.4 L1804.0,1076.0 L1805.5,1076.6 L1807.0,1077.3 L1808.5,1078.0 L1810.0,1078.7 L1811.5,1079.5 L1813.0,1080.3 L1814.5,1081.1 L1816.0,1082.0 L1817.5,1082.8 L1819.0,1083.8 L1820.5,1084.7 L1822.0,1085.7 L1823.5,1086.7 L1825.0,1087.7 L1826.5,1088.8 L1828.0,1089.8 L1829.5,1090.9 L1831.0,1092.1 L1832.5,1093.2 L1834.0,1094.4 L1835.5,1095.6 L1837.0,1096.8 L1838.5,1098.1 L1840.0,1099.3 L1841.5,1100.6 L1843.0,1101.9 L1844.5,1103.2 L1846.0,1104.6 L1847.5,1105.9 L1849.0,1107.3 L1850.5,1108.7 L1852.0,1110.1 L1853.5,1111.5 L1855.0,1112.9 L1856.5,1114.3 L1858.0,1115.8 L1859.5,1117.2 L1861.0,1118.7 L1862.5,1120.1 L1864.0,1121.6 L1865.5,1123.1 L1867.0,1124.6 L1868.5,1126.0 L1870.0,1127.5 L1871.5,1129.0 L1873.0,1130.5 L1874.5,1132.0 L1876.0,1133.5 L1877.5,1135.0 L1879.0,1136.5 L1880.5,1138.0 L1882.0,1139.5 L1883.5,1140.9 L1885.0,1142.4 L1886.5,1143.9 L1888.0,1145.3 L1889.5,1146.8 L1891.0,1148.2 L1892.5,1149.6 L1894.0,1151.1 L1895.5,1152.5 L1897.0,1153.9 L1898.5,1155.2 L1900.0,1156.6 L1901.5,1158.0 L1903.0,1159.3 L1904.5,1160.6 L1906.0,1161.9 L1907.5,1163.2 L1909.0,1164.4 L1910.5,1165.7 L1912.0,1166.9" stroke="#00AEE3"/>
</g>
<rect x="107" y="19" width="1801.0" height="1450.5" fill="none" stroke="#000" stroke-width="6.2"/>
<line x1="104" y1="1469.6" x2="1911" y2="1469.6" stroke="#000" stroke-width="6.8"/>
<line x1="173.3" y1="1470" x2="173.3" y2="1499" stroke="#000" stroke-width="7"/><line x1="397.1" y1="1470" x2="397.1" y2="1499" stroke="#000" stroke-width="7"/><line x1="620.8" y1="1470" x2="620.8" y2="1499" stroke="#000" stroke-width="7"/><line x1="844.6" y1="1470" x2="844.6" y2="1499" stroke="#000" stroke-width="7"/><line x1="1068.4" y1="1470" x2="1068.4" y2="1499" stroke="#000" stroke-width="7"/><line x1="1292.1" y1="1470" x2="1292.1" y2="1499" stroke="#000" stroke-width="7"/><line x1="1515.9" y1="1470" x2="1515.9" y2="1499" stroke="#000" stroke-width="7"/><line x1="1739.7" y1="1470" x2="1739.7" y2="1499" stroke="#000" stroke-width="7"/><line x1="285.2" y1="1470" x2="285.2" y2="1484.2" stroke="#000" stroke-width="7"/><line x1="509.0" y1="1470" x2="509.0" y2="1484.2" stroke="#000" stroke-width="7"/><line x1="732.7" y1="1470" x2="732.7" y2="1484.2" stroke="#000" stroke-width="7"/><line x1="956.5" y1="1470" x2="956.5" y2="1484.2" stroke="#000" stroke-width="7"/><line x1="1180.3" y1="1470" x2="1180.3" y2="1484.2" stroke="#000" stroke-width="7"/><line x1="1404.0" y1="1470" x2="1404.0" y2="1484.2" stroke="#000" stroke-width="7"/><line x1="1627.8" y1="1470" x2="1627.8" y2="1484.2" stroke="#000" stroke-width="7"/><line x1="1851.6" y1="1470" x2="1851.6" y2="1484.2" stroke="#000" stroke-width="7"/>
<text x="173.3" y="1572.5" text-anchor="middle" font-size="69">100</text><text x="397.1" y="1572.5" text-anchor="middle" font-size="69">200</text><text x="620.8" y="1572.5" text-anchor="middle" font-size="69">300</text><text x="844.6" y="1572.5" text-anchor="middle" font-size="69">400</text><text x="1068.4" y="1572.5" text-anchor="middle" font-size="69">500</text><text x="1292.1" y="1572.5" text-anchor="middle" font-size="69">600</text><text x="1515.9" y="1572.5" text-anchor="middle" font-size="69">700</text><text x="1739.7" y="1572.5" text-anchor="middle" font-size="69">800</text>
<text x="122.4" y="265.0" fill="#5C70B7" font-size="62">CeO<tspan font-size="42" dy="16.8">2</tspan><tspan dy="-16.8">(HT)</tspan></text>
<text x="121.5" y="656.0" fill="#FF932E" font-size="62">CeO<tspan font-size="42" dy="16.8">2</tspan><tspan dy="-16.8"> (SC)</tspan></text>
<text x="123.4" y="1025.0" fill="#00B050" font-size="62">CeO<tspan font-size="42" dy="16.8">2</tspan><tspan dy="-16.8">(TS)</tspan></text>
<text x="121.6" y="1389.2" fill="#00AEE3" font-size="62">CeO<tspan font-size="42" dy="16.8">2</tspan><tspan dy="-16.8"> (COM)</tspan></text>
<text x="765" y="1661" font-size="77.7" textLength="489" lengthAdjust="spacingAndGlyphs">Temperature/°C</text>
<text transform="translate(70,1053.5) rotate(-90)" font-size="77.7" textLength="619.5" lengthAdjust="spacingAndGlyphs">TCD signal/arb. uni.</text>
</svg>
</body></html>
